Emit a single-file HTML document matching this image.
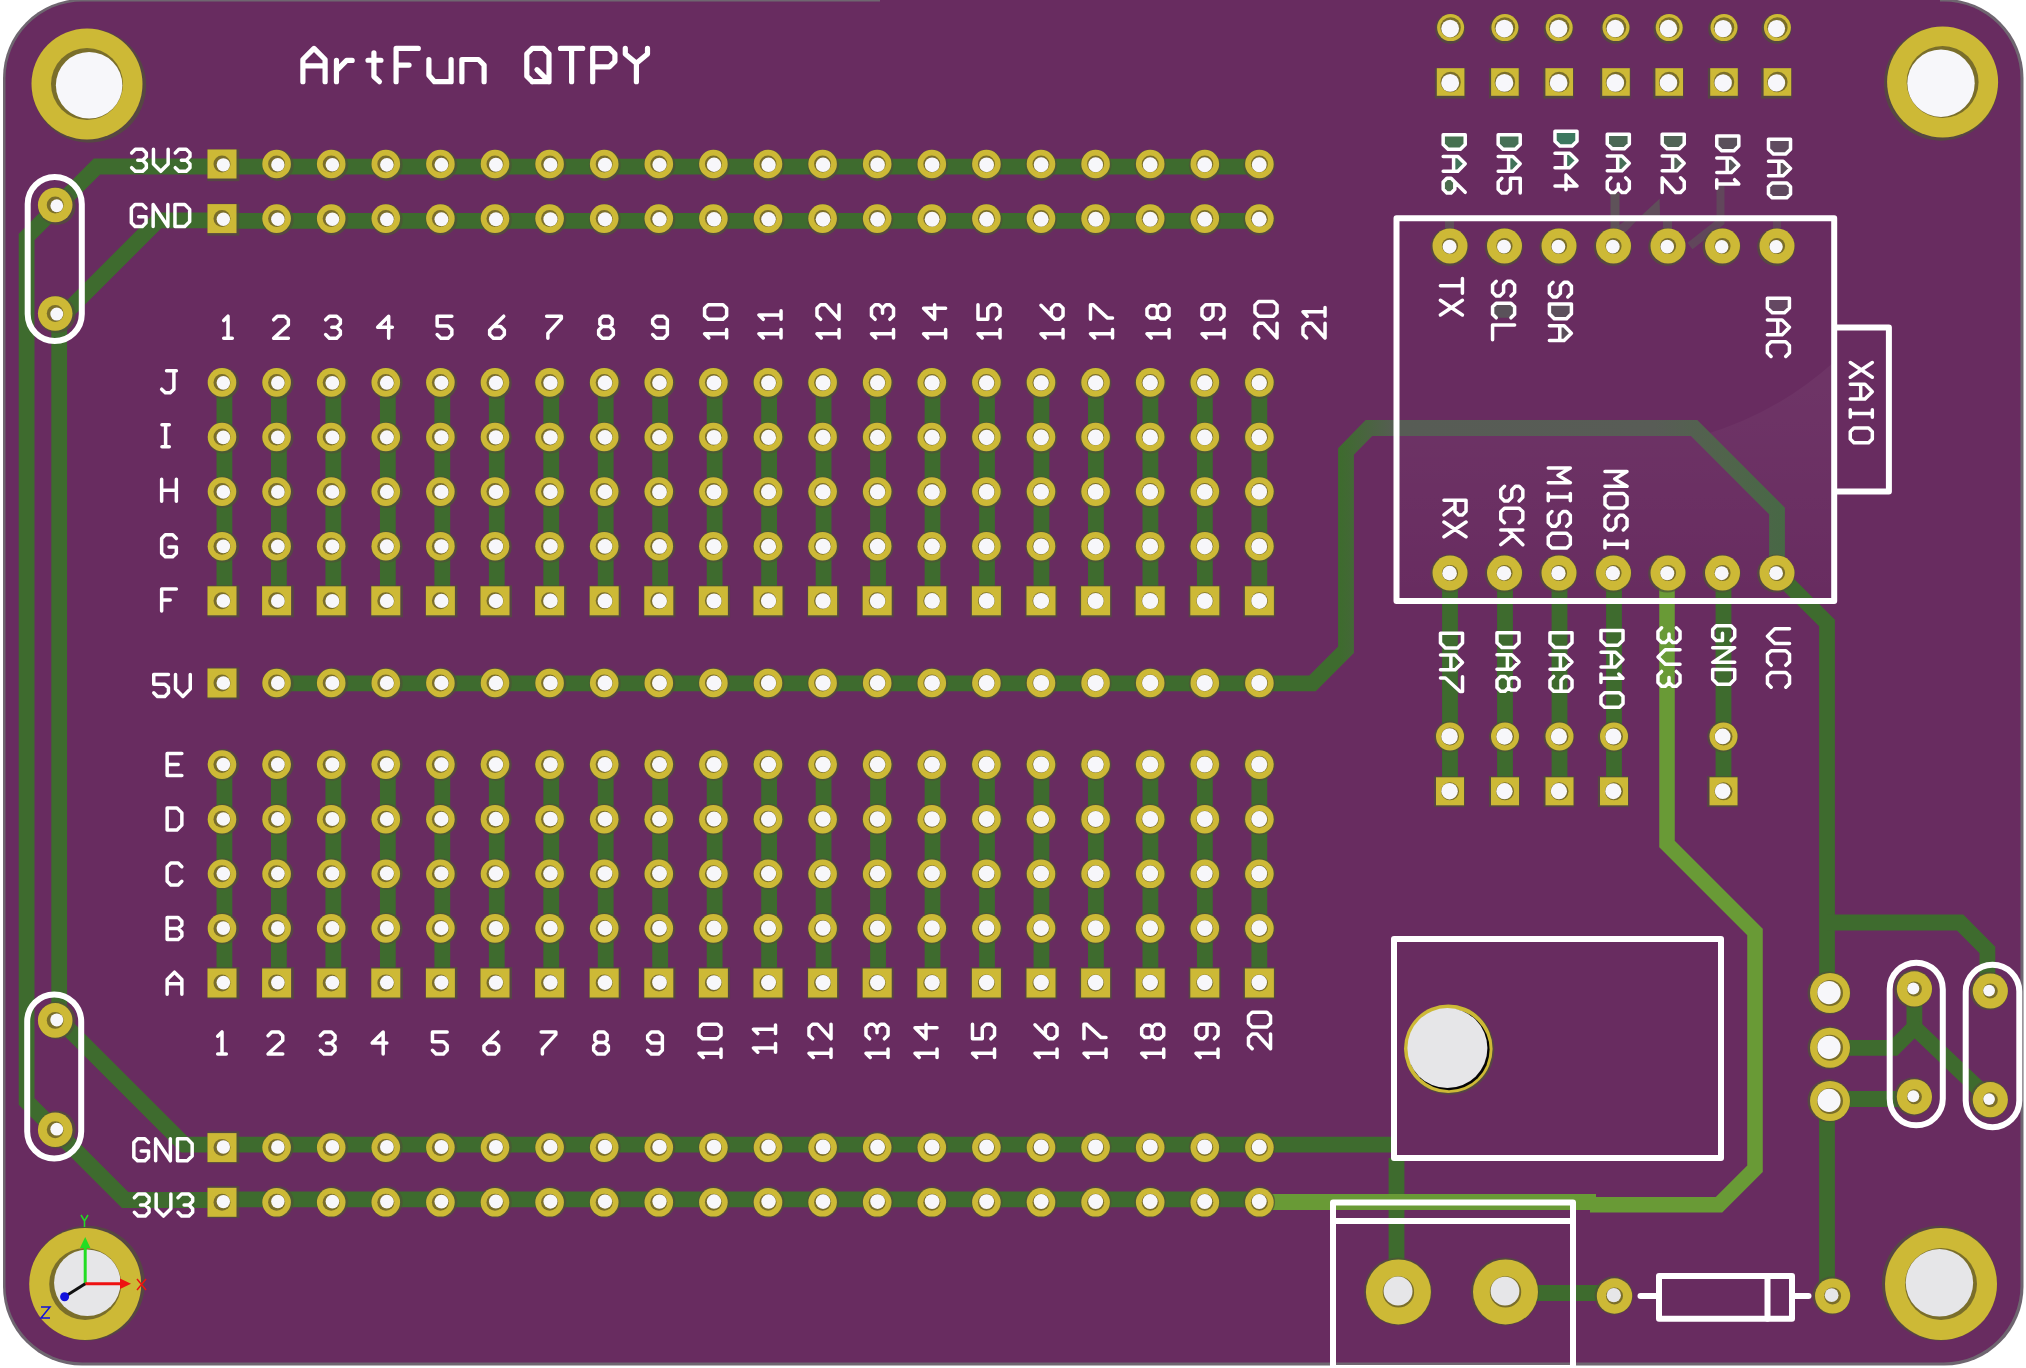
<!DOCTYPE html>
<html><head><meta charset="utf-8"><title>ArtFun QTPY PCB</title>
<style>html,body{margin:0;padding:0;background:#fff;overflow:hidden;font-family:"Liberation Sans",sans-serif}svg{display:block}</style>
</head><body>
<svg width="2026" height="1368" viewBox="0 0 2026 1368"><rect x="0" y="0" width="2026" height="1368" fill="#ffffff"/>
<rect x="3" y="-1" width="2020.5" height="1366.5" rx="79" ry="79" fill="#6f6670"/>
<rect x="5.5" y="1.5" width="2015" height="1361" rx="77" ry="77" fill="#682c60"/>
<rect x="880" y="0" width="1060" height="3" fill="#682c60"/>
<defs><linearGradient id="ghost" gradientUnits="userSpaceOnUse" x1="0" y1="380" x2="0" y2="600"><stop offset="0" stop-color="#ffffff" stop-opacity="0.04"/><stop offset="1" stop-color="#ffffff" stop-opacity="0.0"/></linearGradient></defs>
<path d="M1834 362 Q1775 415 1700 436 L1399 436 L1399 598 L1834 598 Z" fill="url(#ghost)"/>
<path d="M224.42 166.63 L1259.33 166.63" fill="none" stroke="#3e6b2e" stroke-width="15.8" stroke-linejoin="miter" stroke-linecap="butt"/>
<path d="M224.42 220.94 L1259.33 220.94" fill="none" stroke="#3e6b2e" stroke-width="15.8" stroke-linejoin="miter" stroke-linecap="butt"/>
<path d="M224 166.5 L97 166.5 L26.6 237 L26.6 1101.4 L125.2 1200 L224 1200" fill="none" stroke="#3e6b2e" stroke-width="15.8" stroke-linejoin="miter" stroke-linecap="butt"/>
<path d="M224 220.4 L158 220.4 L59.2 319.2 L59.2 1019.5 L184.4 1144.7 L224 1144.7" fill="none" stroke="#3e6b2e" stroke-width="15.8" stroke-linejoin="miter" stroke-linecap="butt"/>
<path d="M224.42 383.87 L224.42 601.11" fill="none" stroke="#3e6b2e" stroke-width="15.8" stroke-linejoin="miter" stroke-linecap="butt"/>
<path d="M224.42 764.05 L224.42 981.29" fill="none" stroke="#3e6b2e" stroke-width="15.8" stroke-linejoin="miter" stroke-linecap="butt"/>
<path d="M278.89 383.87 L278.89 601.11" fill="none" stroke="#3e6b2e" stroke-width="15.8" stroke-linejoin="miter" stroke-linecap="butt"/>
<path d="M278.89 764.05 L278.89 981.29" fill="none" stroke="#3e6b2e" stroke-width="15.8" stroke-linejoin="miter" stroke-linecap="butt"/>
<path d="M333.36 383.87 L333.36 601.11" fill="none" stroke="#3e6b2e" stroke-width="15.8" stroke-linejoin="miter" stroke-linecap="butt"/>
<path d="M333.36 764.05 L333.36 981.29" fill="none" stroke="#3e6b2e" stroke-width="15.8" stroke-linejoin="miter" stroke-linecap="butt"/>
<path d="M387.83 383.87 L387.83 601.11" fill="none" stroke="#3e6b2e" stroke-width="15.8" stroke-linejoin="miter" stroke-linecap="butt"/>
<path d="M387.83 764.05 L387.83 981.29" fill="none" stroke="#3e6b2e" stroke-width="15.8" stroke-linejoin="miter" stroke-linecap="butt"/>
<path d="M442.3 383.87 L442.3 601.11" fill="none" stroke="#3e6b2e" stroke-width="15.8" stroke-linejoin="miter" stroke-linecap="butt"/>
<path d="M442.3 764.05 L442.3 981.29" fill="none" stroke="#3e6b2e" stroke-width="15.8" stroke-linejoin="miter" stroke-linecap="butt"/>
<path d="M496.76 383.87 L496.76 601.11" fill="none" stroke="#3e6b2e" stroke-width="15.8" stroke-linejoin="miter" stroke-linecap="butt"/>
<path d="M496.76 764.05 L496.76 981.29" fill="none" stroke="#3e6b2e" stroke-width="15.8" stroke-linejoin="miter" stroke-linecap="butt"/>
<path d="M551.23 383.87 L551.23 601.11" fill="none" stroke="#3e6b2e" stroke-width="15.8" stroke-linejoin="miter" stroke-linecap="butt"/>
<path d="M551.23 764.05 L551.23 981.29" fill="none" stroke="#3e6b2e" stroke-width="15.8" stroke-linejoin="miter" stroke-linecap="butt"/>
<path d="M605.7 383.87 L605.7 601.11" fill="none" stroke="#3e6b2e" stroke-width="15.8" stroke-linejoin="miter" stroke-linecap="butt"/>
<path d="M605.7 764.05 L605.7 981.29" fill="none" stroke="#3e6b2e" stroke-width="15.8" stroke-linejoin="miter" stroke-linecap="butt"/>
<path d="M660.17 383.87 L660.17 601.11" fill="none" stroke="#3e6b2e" stroke-width="15.8" stroke-linejoin="miter" stroke-linecap="butt"/>
<path d="M660.17 764.05 L660.17 981.29" fill="none" stroke="#3e6b2e" stroke-width="15.8" stroke-linejoin="miter" stroke-linecap="butt"/>
<path d="M714.64 383.87 L714.64 601.11" fill="none" stroke="#3e6b2e" stroke-width="15.8" stroke-linejoin="miter" stroke-linecap="butt"/>
<path d="M714.64 764.05 L714.64 981.29" fill="none" stroke="#3e6b2e" stroke-width="15.8" stroke-linejoin="miter" stroke-linecap="butt"/>
<path d="M769.11 383.87 L769.11 601.11" fill="none" stroke="#3e6b2e" stroke-width="15.8" stroke-linejoin="miter" stroke-linecap="butt"/>
<path d="M769.11 764.05 L769.11 981.29" fill="none" stroke="#3e6b2e" stroke-width="15.8" stroke-linejoin="miter" stroke-linecap="butt"/>
<path d="M823.58 383.87 L823.58 601.11" fill="none" stroke="#3e6b2e" stroke-width="15.8" stroke-linejoin="miter" stroke-linecap="butt"/>
<path d="M823.58 764.05 L823.58 981.29" fill="none" stroke="#3e6b2e" stroke-width="15.8" stroke-linejoin="miter" stroke-linecap="butt"/>
<path d="M878.05 383.87 L878.05 601.11" fill="none" stroke="#3e6b2e" stroke-width="15.8" stroke-linejoin="miter" stroke-linecap="butt"/>
<path d="M878.05 764.05 L878.05 981.29" fill="none" stroke="#3e6b2e" stroke-width="15.8" stroke-linejoin="miter" stroke-linecap="butt"/>
<path d="M932.52 383.87 L932.52 601.11" fill="none" stroke="#3e6b2e" stroke-width="15.8" stroke-linejoin="miter" stroke-linecap="butt"/>
<path d="M932.52 764.05 L932.52 981.29" fill="none" stroke="#3e6b2e" stroke-width="15.8" stroke-linejoin="miter" stroke-linecap="butt"/>
<path d="M986.98 383.87 L986.98 601.11" fill="none" stroke="#3e6b2e" stroke-width="15.8" stroke-linejoin="miter" stroke-linecap="butt"/>
<path d="M986.98 764.05 L986.98 981.29" fill="none" stroke="#3e6b2e" stroke-width="15.8" stroke-linejoin="miter" stroke-linecap="butt"/>
<path d="M1041.45 383.87 L1041.45 601.11" fill="none" stroke="#3e6b2e" stroke-width="15.8" stroke-linejoin="miter" stroke-linecap="butt"/>
<path d="M1041.45 764.05 L1041.45 981.29" fill="none" stroke="#3e6b2e" stroke-width="15.8" stroke-linejoin="miter" stroke-linecap="butt"/>
<path d="M1095.92 383.87 L1095.92 601.11" fill="none" stroke="#3e6b2e" stroke-width="15.8" stroke-linejoin="miter" stroke-linecap="butt"/>
<path d="M1095.92 764.05 L1095.92 981.29" fill="none" stroke="#3e6b2e" stroke-width="15.8" stroke-linejoin="miter" stroke-linecap="butt"/>
<path d="M1150.39 383.87 L1150.39 601.11" fill="none" stroke="#3e6b2e" stroke-width="15.8" stroke-linejoin="miter" stroke-linecap="butt"/>
<path d="M1150.39 764.05 L1150.39 981.29" fill="none" stroke="#3e6b2e" stroke-width="15.8" stroke-linejoin="miter" stroke-linecap="butt"/>
<path d="M1204.86 383.87 L1204.86 601.11" fill="none" stroke="#3e6b2e" stroke-width="15.8" stroke-linejoin="miter" stroke-linecap="butt"/>
<path d="M1204.86 764.05 L1204.86 981.29" fill="none" stroke="#3e6b2e" stroke-width="15.8" stroke-linejoin="miter" stroke-linecap="butt"/>
<path d="M1259.33 383.87 L1259.33 601.11" fill="none" stroke="#3e6b2e" stroke-width="15.8" stroke-linejoin="miter" stroke-linecap="butt"/>
<path d="M1259.33 764.05 L1259.33 981.29" fill="none" stroke="#3e6b2e" stroke-width="15.8" stroke-linejoin="miter" stroke-linecap="butt"/>
<defs><linearGradient id="g5v" gradientUnits="userSpaceOnUse" x1="1340" y1="0" x2="1790" y2="0"><stop offset="0" stop-color="#3e6b2e"/><stop offset="0.13" stop-color="#575c55"/><stop offset="0.7" stop-color="#585c56"/><stop offset="0.86" stop-color="#50644b"/><stop offset="1" stop-color="#476845"/></linearGradient></defs>
<path d="M276.6 683.3 L1312.5 683.3 L1346 649.8 L1346 451.5 L1369 428 L1694 428 L1777 511 L1777 573" fill="none" stroke="url(#g5v)" stroke-width="15.8" stroke-linejoin="miter" stroke-linecap="butt"/>
<path d="M1615 193 L1615 246" fill="none" stroke="#5b5d58" stroke-width="9" stroke-linejoin="miter" stroke-linecap="butt" opacity="0.8"/>
<path d="M1720.5 186 L1720.5 222 L1690 246" fill="none" stroke="#5b5d58" stroke-width="8" stroke-linejoin="miter" stroke-linecap="butt" opacity="0.55"/>
<path d="M1667.5 220 L1667.5 246" fill="none" stroke="#5b5d58" stroke-width="9" stroke-linejoin="miter" stroke-linecap="butt" opacity="0.6"/>
<path d="M1659.6 198.7 L1660 216 L1641 216 Z" fill="#5b5d58" opacity="0.7"/>
<path d="M1615 228 L1632 216 L1641 216 L1622 236 Z" fill="#5b5d58" opacity="0.55"/>
<path d="M1449.5 221 L1449.5 246" fill="none" stroke="#5b5d58" stroke-width="9" stroke-linejoin="miter" stroke-linecap="butt" opacity="0.65"/>
<path d="M1777 221 L1777 246" fill="none" stroke="#5b5d58" stroke-width="8" stroke-linejoin="miter" stroke-linecap="butt" opacity="0.45"/>
<path d="M224 1144.7 L1391 1144.7" fill="none" stroke="#3e6b2e" stroke-width="15.8" stroke-linejoin="miter" stroke-linecap="butt"/>
<path d="M1396.5 1158 L1396.5 1291" fill="none" stroke="#3e6b2e" stroke-width="15.8" stroke-linejoin="miter" stroke-linecap="butt"/>
<path d="M224.42 1199.43 L1259.33 1199.43" fill="none" stroke="#3e6b2e" stroke-width="15.8" stroke-linejoin="miter" stroke-linecap="butt"/>
<path d="M1259.4 1202 L1596 1202" fill="none" stroke="#699a36" stroke-width="15.8" stroke-linejoin="miter" stroke-linecap="butt"/>
<path d="M1590 1204.8 L1719 1204.8 L1755 1168.8 L1755 932 L1667 844 L1667 573" fill="none" stroke="#699a36" stroke-width="15.5" stroke-linejoin="miter" stroke-linecap="butt"/>
<path d="M1450 573 L1450 791" fill="none" stroke="#3e6b2e" stroke-width="15.8" stroke-linejoin="miter" stroke-linecap="butt"/>
<path d="M1505 573 L1505 791" fill="none" stroke="#3e6b2e" stroke-width="15.8" stroke-linejoin="miter" stroke-linecap="butt"/>
<path d="M1559.5 573 L1559.5 791" fill="none" stroke="#3e6b2e" stroke-width="15.8" stroke-linejoin="miter" stroke-linecap="butt"/>
<path d="M1614 573 L1614 791" fill="none" stroke="#3e6b2e" stroke-width="15.8" stroke-linejoin="miter" stroke-linecap="butt"/>
<path d="M1723.5 573 L1723.5 791" fill="none" stroke="#3e6b2e" stroke-width="15.8" stroke-linejoin="miter" stroke-linecap="butt"/>
<path d="M1777 573 L1827 623 L1827 993" fill="none" stroke="#3e6b2e" stroke-width="15.8" stroke-linejoin="miter" stroke-linecap="butt"/>
<path d="M1827 922.5 L1960 922.5 L1987.4 950 L1987.4 992" fill="none" stroke="#3e6b2e" stroke-width="15.8" stroke-linejoin="miter" stroke-linecap="butt"/>
<path d="M1827 1101 L1827 1296" fill="none" stroke="#3e6b2e" stroke-width="15.8" stroke-linejoin="miter" stroke-linecap="butt"/>
<path d="M1829 1047.8 L1894 1047.8 L1914.4 1027.4 L1914.4 989" fill="none" stroke="#3e6b2e" stroke-width="15.8" stroke-linejoin="miter" stroke-linecap="butt"/>
<path d="M1914.4 1027.4 L1990.3 1099.7" fill="none" stroke="#3e6b2e" stroke-width="15.8" stroke-linejoin="miter" stroke-linecap="butt"/>
<path d="M1829 1099 L1914.4 1099" fill="none" stroke="#3e6b2e" stroke-width="15.8" stroke-linejoin="miter" stroke-linecap="butt"/>
<path d="M1506 1293 L1614 1293" fill="none" stroke="#3e6b2e" stroke-width="15.8" stroke-linejoin="miter" stroke-linecap="butt"/>
<rect x="207.35" y="149.18" width="32" height="32" fill="#4f5238" opacity="0.7"/>
<rect x="207.5" y="149.5" width="29" height="29" fill="#cdb936"/>
<circle cx="222" cy="164" r="8.5" fill="#7a6e2a"/>
<circle cx="223.35" cy="164.78" r="6.65" fill="#f7f7fa"/>
<circle cx="277.87" cy="165.18" r="15.8" fill="#4f5238" opacity="0.7"/>
<circle cx="276.6" cy="164" r="14.3" fill="#cdb936"/>
<circle cx="276.6" cy="164" r="8.5" fill="#7a6e2a"/>
<circle cx="277.87" cy="164.78" r="6.71" fill="#f7f7fa"/>
<circle cx="332.39" cy="165.18" r="15.8" fill="#4f5238" opacity="0.7"/>
<circle cx="331.2" cy="164" r="14.3" fill="#cdb936"/>
<circle cx="331.2" cy="164" r="8.5" fill="#7a6e2a"/>
<circle cx="332.39" cy="164.78" r="6.78" fill="#f7f7fa"/>
<circle cx="386.91" cy="165.18" r="15.8" fill="#4f5238" opacity="0.7"/>
<circle cx="385.8" cy="164" r="14.3" fill="#cdb936"/>
<circle cx="385.8" cy="164" r="8.5" fill="#7a6e2a"/>
<circle cx="386.91" cy="164.78" r="6.85" fill="#f7f7fa"/>
<circle cx="441.43" cy="165.18" r="15.8" fill="#4f5238" opacity="0.7"/>
<circle cx="440.4" cy="164" r="14.3" fill="#cdb936"/>
<circle cx="440.4" cy="164" r="8.5" fill="#7a6e2a"/>
<circle cx="441.43" cy="164.78" r="6.91" fill="#f7f7fa"/>
<circle cx="495.95" cy="165.18" r="15.8" fill="#4f5238" opacity="0.7"/>
<circle cx="495" cy="164" r="14.3" fill="#cdb936"/>
<circle cx="495" cy="164" r="8.5" fill="#7a6e2a"/>
<circle cx="495.95" cy="164.78" r="6.97" fill="#f7f7fa"/>
<circle cx="550.47" cy="165.18" r="15.8" fill="#4f5238" opacity="0.7"/>
<circle cx="549.6" cy="164" r="14.3" fill="#cdb936"/>
<circle cx="549.6" cy="164" r="8.5" fill="#7a6e2a"/>
<circle cx="550.47" cy="164.78" r="7.03" fill="#f7f7fa"/>
<circle cx="604.99" cy="165.18" r="15.8" fill="#4f5238" opacity="0.7"/>
<circle cx="604.2" cy="164" r="14.3" fill="#cdb936"/>
<circle cx="604.2" cy="164" r="8.5" fill="#7a6e2a"/>
<circle cx="604.99" cy="164.78" r="7.09" fill="#f7f7fa"/>
<circle cx="659.51" cy="165.18" r="15.8" fill="#4f5238" opacity="0.7"/>
<circle cx="658.8" cy="164" r="14.3" fill="#cdb936"/>
<circle cx="658.8" cy="164" r="8.5" fill="#7a6e2a"/>
<circle cx="659.51" cy="164.78" r="7.15" fill="#f7f7fa"/>
<circle cx="714.03" cy="165.18" r="15.8" fill="#4f5238" opacity="0.7"/>
<circle cx="713.4" cy="164" r="14.3" fill="#cdb936"/>
<circle cx="713.4" cy="164" r="8.5" fill="#7a6e2a"/>
<circle cx="714.03" cy="164.78" r="7.2" fill="#f7f7fa"/>
<circle cx="768.55" cy="165.18" r="15.8" fill="#4f5238" opacity="0.7"/>
<circle cx="768" cy="164" r="14.3" fill="#cdb936"/>
<circle cx="768" cy="164" r="8.5" fill="#7a6e2a"/>
<circle cx="768.55" cy="164.78" r="7.25" fill="#f7f7fa"/>
<circle cx="823.07" cy="165.18" r="15.8" fill="#4f5238" opacity="0.7"/>
<circle cx="822.6" cy="164" r="14.3" fill="#cdb936"/>
<circle cx="822.6" cy="164" r="8.5" fill="#7a6e2a"/>
<circle cx="823.07" cy="164.78" r="7.29" fill="#f7f7fa"/>
<circle cx="877.6" cy="165.18" r="15.8" fill="#4f5238" opacity="0.7"/>
<circle cx="877.2" cy="164" r="14.3" fill="#cdb936"/>
<circle cx="877.2" cy="164" r="8.5" fill="#7a6e2a"/>
<circle cx="877.6" cy="164.78" r="7.33" fill="#f7f7fa"/>
<circle cx="932.12" cy="165.18" r="15.8" fill="#4f5238" opacity="0.7"/>
<circle cx="931.8" cy="164" r="14.3" fill="#cdb936"/>
<circle cx="931.8" cy="164" r="8.5" fill="#7a6e2a"/>
<circle cx="932.12" cy="164.78" r="7.36" fill="#f7f7fa"/>
<circle cx="986.64" cy="165.18" r="15.8" fill="#4f5238" opacity="0.7"/>
<circle cx="986.4" cy="164" r="14.3" fill="#cdb936"/>
<circle cx="986.4" cy="164" r="8.5" fill="#7a6e2a"/>
<circle cx="986.64" cy="164.78" r="7.39" fill="#f7f7fa"/>
<circle cx="1041.16" cy="165.18" r="15.8" fill="#4f5238" opacity="0.7"/>
<circle cx="1041" cy="164" r="14.3" fill="#cdb936"/>
<circle cx="1041" cy="164" r="8.5" fill="#7a6e2a"/>
<circle cx="1041.16" cy="164.78" r="7.41" fill="#f7f7fa"/>
<circle cx="1095.68" cy="165.18" r="15.8" fill="#4f5238" opacity="0.7"/>
<circle cx="1095.6" cy="164" r="14.3" fill="#cdb936"/>
<circle cx="1095.6" cy="164" r="8.5" fill="#7a6e2a"/>
<circle cx="1095.68" cy="164.78" r="7.42" fill="#f7f7fa"/>
<circle cx="1150.2" cy="165.18" r="15.8" fill="#4f5238" opacity="0.7"/>
<circle cx="1150.2" cy="164" r="14.3" fill="#cdb936"/>
<circle cx="1150.2" cy="164" r="8.5" fill="#7a6e2a"/>
<circle cx="1150.2" cy="164.78" r="7.42" fill="#f7f7fa"/>
<circle cx="1204.72" cy="165.18" r="15.8" fill="#4f5238" opacity="0.7"/>
<circle cx="1204.8" cy="164" r="14.3" fill="#cdb936"/>
<circle cx="1204.8" cy="164" r="8.5" fill="#7a6e2a"/>
<circle cx="1204.72" cy="164.78" r="7.42" fill="#f7f7fa"/>
<circle cx="1259.24" cy="165.18" r="15.8" fill="#4f5238" opacity="0.7"/>
<circle cx="1259.4" cy="164" r="14.3" fill="#cdb936"/>
<circle cx="1259.4" cy="164" r="8.5" fill="#7a6e2a"/>
<circle cx="1259.24" cy="164.78" r="7.41" fill="#f7f7fa"/>
<rect x="207.35" y="203.7" width="32" height="32" fill="#4f5238" opacity="0.7"/>
<rect x="207.5" y="204.1" width="29" height="29" fill="#cdb936"/>
<circle cx="222" cy="218.6" r="8.5" fill="#7a6e2a"/>
<circle cx="223.35" cy="219.3" r="6.68" fill="#f7f7fa"/>
<circle cx="277.87" cy="219.7" r="15.8" fill="#4f5238" opacity="0.7"/>
<circle cx="276.6" cy="218.6" r="14.3" fill="#cdb936"/>
<circle cx="276.6" cy="218.6" r="8.5" fill="#7a6e2a"/>
<circle cx="277.87" cy="219.3" r="6.75" fill="#f7f7fa"/>
<circle cx="332.39" cy="219.7" r="15.8" fill="#4f5238" opacity="0.7"/>
<circle cx="331.2" cy="218.6" r="14.3" fill="#cdb936"/>
<circle cx="331.2" cy="218.6" r="8.5" fill="#7a6e2a"/>
<circle cx="332.39" cy="219.3" r="6.82" fill="#f7f7fa"/>
<circle cx="386.91" cy="219.7" r="15.8" fill="#4f5238" opacity="0.7"/>
<circle cx="385.8" cy="218.6" r="14.3" fill="#cdb936"/>
<circle cx="385.8" cy="218.6" r="8.5" fill="#7a6e2a"/>
<circle cx="386.91" cy="219.3" r="6.89" fill="#f7f7fa"/>
<circle cx="441.43" cy="219.7" r="15.8" fill="#4f5238" opacity="0.7"/>
<circle cx="440.4" cy="218.6" r="14.3" fill="#cdb936"/>
<circle cx="440.4" cy="218.6" r="8.5" fill="#7a6e2a"/>
<circle cx="441.43" cy="219.3" r="6.96" fill="#f7f7fa"/>
<circle cx="495.95" cy="219.7" r="15.8" fill="#4f5238" opacity="0.7"/>
<circle cx="495" cy="218.6" r="14.3" fill="#cdb936"/>
<circle cx="495" cy="218.6" r="8.5" fill="#7a6e2a"/>
<circle cx="495.95" cy="219.3" r="7.02" fill="#f7f7fa"/>
<circle cx="550.47" cy="219.7" r="15.8" fill="#4f5238" opacity="0.7"/>
<circle cx="549.6" cy="218.6" r="14.3" fill="#cdb936"/>
<circle cx="549.6" cy="218.6" r="8.5" fill="#7a6e2a"/>
<circle cx="550.47" cy="219.3" r="7.08" fill="#f7f7fa"/>
<circle cx="604.99" cy="219.7" r="15.8" fill="#4f5238" opacity="0.7"/>
<circle cx="604.2" cy="218.6" r="14.3" fill="#cdb936"/>
<circle cx="604.2" cy="218.6" r="8.5" fill="#7a6e2a"/>
<circle cx="604.99" cy="219.3" r="7.14" fill="#f7f7fa"/>
<circle cx="659.51" cy="219.7" r="15.8" fill="#4f5238" opacity="0.7"/>
<circle cx="658.8" cy="218.6" r="14.3" fill="#cdb936"/>
<circle cx="658.8" cy="218.6" r="8.5" fill="#7a6e2a"/>
<circle cx="659.51" cy="219.3" r="7.2" fill="#f7f7fa"/>
<circle cx="714.03" cy="219.7" r="15.8" fill="#4f5238" opacity="0.7"/>
<circle cx="713.4" cy="218.6" r="14.3" fill="#cdb936"/>
<circle cx="713.4" cy="218.6" r="8.5" fill="#7a6e2a"/>
<circle cx="714.03" cy="219.3" r="7.26" fill="#f7f7fa"/>
<circle cx="768.55" cy="219.7" r="15.8" fill="#4f5238" opacity="0.7"/>
<circle cx="768" cy="218.6" r="14.3" fill="#cdb936"/>
<circle cx="768" cy="218.6" r="8.5" fill="#7a6e2a"/>
<circle cx="768.55" cy="219.3" r="7.31" fill="#f7f7fa"/>
<circle cx="823.07" cy="219.7" r="15.8" fill="#4f5238" opacity="0.7"/>
<circle cx="822.6" cy="218.6" r="14.3" fill="#cdb936"/>
<circle cx="822.6" cy="218.6" r="8.5" fill="#7a6e2a"/>
<circle cx="823.07" cy="219.3" r="7.36" fill="#f7f7fa"/>
<circle cx="877.6" cy="219.7" r="15.8" fill="#4f5238" opacity="0.7"/>
<circle cx="877.2" cy="218.6" r="14.3" fill="#cdb936"/>
<circle cx="877.2" cy="218.6" r="8.5" fill="#7a6e2a"/>
<circle cx="877.6" cy="219.3" r="7.4" fill="#f7f7fa"/>
<circle cx="932.12" cy="219.7" r="15.8" fill="#4f5238" opacity="0.7"/>
<circle cx="931.8" cy="218.6" r="14.3" fill="#cdb936"/>
<circle cx="931.8" cy="218.6" r="8.5" fill="#7a6e2a"/>
<circle cx="932.12" cy="219.3" r="7.43" fill="#f7f7fa"/>
<circle cx="986.64" cy="219.7" r="15.8" fill="#4f5238" opacity="0.7"/>
<circle cx="986.4" cy="218.6" r="14.3" fill="#cdb936"/>
<circle cx="986.4" cy="218.6" r="8.5" fill="#7a6e2a"/>
<circle cx="986.64" cy="219.3" r="7.46" fill="#f7f7fa"/>
<circle cx="1041.16" cy="219.7" r="15.8" fill="#4f5238" opacity="0.7"/>
<circle cx="1041" cy="218.6" r="14.3" fill="#cdb936"/>
<circle cx="1041" cy="218.6" r="8.5" fill="#7a6e2a"/>
<circle cx="1041.16" cy="219.3" r="7.48" fill="#f7f7fa"/>
<circle cx="1095.68" cy="219.7" r="15.8" fill="#4f5238" opacity="0.7"/>
<circle cx="1095.6" cy="218.6" r="14.3" fill="#cdb936"/>
<circle cx="1095.6" cy="218.6" r="8.5" fill="#7a6e2a"/>
<circle cx="1095.68" cy="219.3" r="7.5" fill="#f7f7fa"/>
<circle cx="1150.2" cy="219.7" r="15.8" fill="#4f5238" opacity="0.7"/>
<circle cx="1150.2" cy="218.6" r="14.3" fill="#cdb936"/>
<circle cx="1150.2" cy="218.6" r="8.5" fill="#7a6e2a"/>
<circle cx="1150.2" cy="219.3" r="7.5" fill="#f7f7fa"/>
<circle cx="1204.72" cy="219.7" r="15.8" fill="#4f5238" opacity="0.7"/>
<circle cx="1204.8" cy="218.6" r="14.3" fill="#cdb936"/>
<circle cx="1204.8" cy="218.6" r="8.5" fill="#7a6e2a"/>
<circle cx="1204.72" cy="219.3" r="7.5" fill="#f7f7fa"/>
<circle cx="1259.24" cy="219.7" r="15.8" fill="#4f5238" opacity="0.7"/>
<circle cx="1259.4" cy="218.6" r="14.3" fill="#cdb936"/>
<circle cx="1259.4" cy="218.6" r="8.5" fill="#7a6e2a"/>
<circle cx="1259.24" cy="219.3" r="7.48" fill="#f7f7fa"/>
<rect x="207.35" y="667.42" width="32" height="32" fill="#4f5238" opacity="0.7"/>
<rect x="207.5" y="668.5" width="29" height="29" fill="#cdb936"/>
<circle cx="222" cy="683" r="8.5" fill="#7a6e2a"/>
<circle cx="223.35" cy="683.02" r="6.85" fill="#f7f7fa"/>
<circle cx="277.87" cy="683.42" r="15.8" fill="#4f5238" opacity="0.7"/>
<circle cx="276.6" cy="683" r="14.3" fill="#cdb936"/>
<circle cx="276.6" cy="683" r="8.5" fill="#7a6e2a"/>
<circle cx="277.87" cy="683.02" r="6.93" fill="#f7f7fa"/>
<circle cx="332.39" cy="683.42" r="15.8" fill="#4f5238" opacity="0.7"/>
<circle cx="331.2" cy="683" r="14.3" fill="#cdb936"/>
<circle cx="331.2" cy="683" r="8.5" fill="#7a6e2a"/>
<circle cx="332.39" cy="683.02" r="7.01" fill="#f7f7fa"/>
<circle cx="386.91" cy="683.42" r="15.8" fill="#4f5238" opacity="0.7"/>
<circle cx="385.8" cy="683" r="14.3" fill="#cdb936"/>
<circle cx="385.8" cy="683" r="8.5" fill="#7a6e2a"/>
<circle cx="386.91" cy="683.02" r="7.09" fill="#f7f7fa"/>
<circle cx="441.43" cy="683.42" r="15.8" fill="#4f5238" opacity="0.7"/>
<circle cx="440.4" cy="683" r="14.3" fill="#cdb936"/>
<circle cx="440.4" cy="683" r="8.5" fill="#7a6e2a"/>
<circle cx="441.43" cy="683.02" r="7.17" fill="#f7f7fa"/>
<circle cx="495.95" cy="683.42" r="15.8" fill="#4f5238" opacity="0.7"/>
<circle cx="495" cy="683" r="14.3" fill="#cdb936"/>
<circle cx="495" cy="683" r="8.5" fill="#7a6e2a"/>
<circle cx="495.95" cy="683.02" r="7.25" fill="#f7f7fa"/>
<circle cx="550.47" cy="683.42" r="15.8" fill="#4f5238" opacity="0.7"/>
<circle cx="549.6" cy="683" r="14.3" fill="#cdb936"/>
<circle cx="549.6" cy="683" r="8.5" fill="#7a6e2a"/>
<circle cx="550.47" cy="683.02" r="7.33" fill="#f7f7fa"/>
<circle cx="604.99" cy="683.42" r="15.8" fill="#4f5238" opacity="0.7"/>
<circle cx="604.2" cy="683" r="14.3" fill="#cdb936"/>
<circle cx="604.2" cy="683" r="8.5" fill="#7a6e2a"/>
<circle cx="604.99" cy="683.02" r="7.41" fill="#f7f7fa"/>
<circle cx="659.51" cy="683.42" r="15.8" fill="#4f5238" opacity="0.7"/>
<circle cx="658.8" cy="683" r="14.3" fill="#cdb936"/>
<circle cx="658.8" cy="683" r="8.5" fill="#7a6e2a"/>
<circle cx="659.51" cy="683.02" r="7.49" fill="#f7f7fa"/>
<circle cx="714.03" cy="683.42" r="15.8" fill="#4f5238" opacity="0.7"/>
<circle cx="713.4" cy="683" r="14.3" fill="#cdb936"/>
<circle cx="713.4" cy="683" r="8.5" fill="#7a6e2a"/>
<circle cx="714.03" cy="683.02" r="7.57" fill="#f7f7fa"/>
<circle cx="768.55" cy="683.42" r="15.8" fill="#4f5238" opacity="0.7"/>
<circle cx="768" cy="683" r="14.3" fill="#cdb936"/>
<circle cx="768" cy="683" r="8.5" fill="#7a6e2a"/>
<circle cx="768.55" cy="683.02" r="7.65" fill="#f7f7fa"/>
<circle cx="823.07" cy="683.42" r="15.8" fill="#4f5238" opacity="0.7"/>
<circle cx="822.6" cy="683" r="14.3" fill="#cdb936"/>
<circle cx="822.6" cy="683" r="8.5" fill="#7a6e2a"/>
<circle cx="823.07" cy="683.02" r="7.72" fill="#f7f7fa"/>
<circle cx="877.6" cy="683.42" r="15.8" fill="#4f5238" opacity="0.7"/>
<circle cx="877.2" cy="683" r="14.3" fill="#cdb936"/>
<circle cx="877.2" cy="683" r="8.5" fill="#7a6e2a"/>
<circle cx="877.6" cy="683.02" r="7.8" fill="#f7f7fa"/>
<circle cx="932.12" cy="683.42" r="15.8" fill="#4f5238" opacity="0.7"/>
<circle cx="931.8" cy="683" r="14.3" fill="#cdb936"/>
<circle cx="931.8" cy="683" r="8.5" fill="#7a6e2a"/>
<circle cx="932.12" cy="683.02" r="7.88" fill="#f7f7fa"/>
<circle cx="986.64" cy="683.42" r="15.8" fill="#4f5238" opacity="0.7"/>
<circle cx="986.4" cy="683" r="14.3" fill="#cdb936"/>
<circle cx="986.4" cy="683" r="8.5" fill="#7a6e2a"/>
<circle cx="986.64" cy="683.02" r="7.96" fill="#f7f7fa"/>
<circle cx="1041.16" cy="683.42" r="15.8" fill="#4f5238" opacity="0.7"/>
<circle cx="1041" cy="683" r="14.3" fill="#cdb936"/>
<circle cx="1041" cy="683" r="8.5" fill="#7a6e2a"/>
<circle cx="1041.16" cy="683.02" r="8.04" fill="#f7f7fa"/>
<circle cx="1095.68" cy="683.42" r="15.8" fill="#4f5238" opacity="0.7"/>
<circle cx="1095.6" cy="683" r="14.3" fill="#cdb936"/>
<circle cx="1095.6" cy="683" r="8.5" fill="#7a6e2a"/>
<circle cx="1095.68" cy="683.02" r="8.12" fill="#f7f7fa"/>
<circle cx="1150.2" cy="683.42" r="15.8" fill="#4f5238" opacity="0.7"/>
<circle cx="1150.2" cy="683" r="14.3" fill="#cdb936"/>
<circle cx="1150.2" cy="683" r="8.5" fill="#7a6e2a"/>
<circle cx="1150.2" cy="683.02" r="8.18" fill="#f7f7fa"/>
<circle cx="1204.72" cy="683.42" r="15.8" fill="#4f5238" opacity="0.7"/>
<circle cx="1204.8" cy="683" r="14.3" fill="#cdb936"/>
<circle cx="1204.8" cy="683" r="8.5" fill="#7a6e2a"/>
<circle cx="1204.72" cy="683.02" r="8.12" fill="#f7f7fa"/>
<circle cx="1259.24" cy="683.42" r="15.8" fill="#4f5238" opacity="0.7"/>
<circle cx="1259.4" cy="683" r="14.3" fill="#cdb936"/>
<circle cx="1259.4" cy="683" r="8.5" fill="#7a6e2a"/>
<circle cx="1259.24" cy="683.02" r="8.04" fill="#f7f7fa"/>
<rect x="207.35" y="1131.35" width="32" height="32" fill="#4f5238" opacity="0.7"/>
<rect x="207.5" y="1133.1" width="29" height="29" fill="#cdb936"/>
<circle cx="222" cy="1147.6" r="8.5" fill="#7a6e2a"/>
<circle cx="223.35" cy="1146.95" r="6.71" fill="#f7f7fa"/>
<circle cx="277.87" cy="1147.35" r="15.8" fill="#4f5238" opacity="0.7"/>
<circle cx="276.6" cy="1147.6" r="14.3" fill="#cdb936"/>
<circle cx="276.6" cy="1147.6" r="8.5" fill="#7a6e2a"/>
<circle cx="277.87" cy="1146.95" r="6.78" fill="#f7f7fa"/>
<circle cx="332.39" cy="1147.35" r="15.8" fill="#4f5238" opacity="0.7"/>
<circle cx="331.2" cy="1147.6" r="14.3" fill="#cdb936"/>
<circle cx="331.2" cy="1147.6" r="8.5" fill="#7a6e2a"/>
<circle cx="332.39" cy="1146.95" r="6.85" fill="#f7f7fa"/>
<circle cx="386.91" cy="1147.35" r="15.8" fill="#4f5238" opacity="0.7"/>
<circle cx="385.8" cy="1147.6" r="14.3" fill="#cdb936"/>
<circle cx="385.8" cy="1147.6" r="8.5" fill="#7a6e2a"/>
<circle cx="386.91" cy="1146.95" r="6.92" fill="#f7f7fa"/>
<circle cx="441.43" cy="1147.35" r="15.8" fill="#4f5238" opacity="0.7"/>
<circle cx="440.4" cy="1147.6" r="14.3" fill="#cdb936"/>
<circle cx="440.4" cy="1147.6" r="8.5" fill="#7a6e2a"/>
<circle cx="441.43" cy="1146.95" r="6.98" fill="#f7f7fa"/>
<circle cx="495.95" cy="1147.35" r="15.8" fill="#4f5238" opacity="0.7"/>
<circle cx="495" cy="1147.6" r="14.3" fill="#cdb936"/>
<circle cx="495" cy="1147.6" r="8.5" fill="#7a6e2a"/>
<circle cx="495.95" cy="1146.95" r="7.05" fill="#f7f7fa"/>
<circle cx="550.47" cy="1147.35" r="15.8" fill="#4f5238" opacity="0.7"/>
<circle cx="549.6" cy="1147.6" r="14.3" fill="#cdb936"/>
<circle cx="549.6" cy="1147.6" r="8.5" fill="#7a6e2a"/>
<circle cx="550.47" cy="1146.95" r="7.11" fill="#f7f7fa"/>
<circle cx="604.99" cy="1147.35" r="15.8" fill="#4f5238" opacity="0.7"/>
<circle cx="604.2" cy="1147.6" r="14.3" fill="#cdb936"/>
<circle cx="604.2" cy="1147.6" r="8.5" fill="#7a6e2a"/>
<circle cx="604.99" cy="1146.95" r="7.18" fill="#f7f7fa"/>
<circle cx="659.51" cy="1147.35" r="15.8" fill="#4f5238" opacity="0.7"/>
<circle cx="658.8" cy="1147.6" r="14.3" fill="#cdb936"/>
<circle cx="658.8" cy="1147.6" r="8.5" fill="#7a6e2a"/>
<circle cx="659.51" cy="1146.95" r="7.24" fill="#f7f7fa"/>
<circle cx="714.03" cy="1147.35" r="15.8" fill="#4f5238" opacity="0.7"/>
<circle cx="713.4" cy="1147.6" r="14.3" fill="#cdb936"/>
<circle cx="713.4" cy="1147.6" r="8.5" fill="#7a6e2a"/>
<circle cx="714.03" cy="1146.95" r="7.29" fill="#f7f7fa"/>
<circle cx="768.55" cy="1147.35" r="15.8" fill="#4f5238" opacity="0.7"/>
<circle cx="768" cy="1147.6" r="14.3" fill="#cdb936"/>
<circle cx="768" cy="1147.6" r="8.5" fill="#7a6e2a"/>
<circle cx="768.55" cy="1146.95" r="7.35" fill="#f7f7fa"/>
<circle cx="823.07" cy="1147.35" r="15.8" fill="#4f5238" opacity="0.7"/>
<circle cx="822.6" cy="1147.6" r="14.3" fill="#cdb936"/>
<circle cx="822.6" cy="1147.6" r="8.5" fill="#7a6e2a"/>
<circle cx="823.07" cy="1146.95" r="7.4" fill="#f7f7fa"/>
<circle cx="877.6" cy="1147.35" r="15.8" fill="#4f5238" opacity="0.7"/>
<circle cx="877.2" cy="1147.6" r="14.3" fill="#cdb936"/>
<circle cx="877.2" cy="1147.6" r="8.5" fill="#7a6e2a"/>
<circle cx="877.6" cy="1146.95" r="7.44" fill="#f7f7fa"/>
<circle cx="932.12" cy="1147.35" r="15.8" fill="#4f5238" opacity="0.7"/>
<circle cx="931.8" cy="1147.6" r="14.3" fill="#cdb936"/>
<circle cx="931.8" cy="1147.6" r="8.5" fill="#7a6e2a"/>
<circle cx="932.12" cy="1146.95" r="7.48" fill="#f7f7fa"/>
<circle cx="986.64" cy="1147.35" r="15.8" fill="#4f5238" opacity="0.7"/>
<circle cx="986.4" cy="1147.6" r="14.3" fill="#cdb936"/>
<circle cx="986.4" cy="1147.6" r="8.5" fill="#7a6e2a"/>
<circle cx="986.64" cy="1146.95" r="7.51" fill="#f7f7fa"/>
<circle cx="1041.16" cy="1147.35" r="15.8" fill="#4f5238" opacity="0.7"/>
<circle cx="1041" cy="1147.6" r="14.3" fill="#cdb936"/>
<circle cx="1041" cy="1147.6" r="8.5" fill="#7a6e2a"/>
<circle cx="1041.16" cy="1146.95" r="7.53" fill="#f7f7fa"/>
<circle cx="1095.68" cy="1147.35" r="15.8" fill="#4f5238" opacity="0.7"/>
<circle cx="1095.6" cy="1147.6" r="14.3" fill="#cdb936"/>
<circle cx="1095.6" cy="1147.6" r="8.5" fill="#7a6e2a"/>
<circle cx="1095.68" cy="1146.95" r="7.55" fill="#f7f7fa"/>
<circle cx="1150.2" cy="1147.35" r="15.8" fill="#4f5238" opacity="0.7"/>
<circle cx="1150.2" cy="1147.6" r="14.3" fill="#cdb936"/>
<circle cx="1150.2" cy="1147.6" r="8.5" fill="#7a6e2a"/>
<circle cx="1150.2" cy="1146.95" r="7.55" fill="#f7f7fa"/>
<circle cx="1204.72" cy="1147.35" r="15.8" fill="#4f5238" opacity="0.7"/>
<circle cx="1204.8" cy="1147.6" r="14.3" fill="#cdb936"/>
<circle cx="1204.8" cy="1147.6" r="8.5" fill="#7a6e2a"/>
<circle cx="1204.72" cy="1146.95" r="7.55" fill="#f7f7fa"/>
<circle cx="1259.24" cy="1147.35" r="15.8" fill="#4f5238" opacity="0.7"/>
<circle cx="1259.4" cy="1147.6" r="14.3" fill="#cdb936"/>
<circle cx="1259.4" cy="1147.6" r="8.5" fill="#7a6e2a"/>
<circle cx="1259.24" cy="1146.95" r="7.53" fill="#f7f7fa"/>
<rect x="207.35" y="1185.97" width="32" height="32" fill="#4f5238" opacity="0.7"/>
<rect x="207.5" y="1187.8" width="29" height="29" fill="#cdb936"/>
<circle cx="222" cy="1202.3" r="8.5" fill="#7a6e2a"/>
<circle cx="223.35" cy="1201.57" r="6.67" fill="#f7f7fa"/>
<circle cx="277.87" cy="1201.97" r="15.8" fill="#4f5238" opacity="0.7"/>
<circle cx="276.6" cy="1202.3" r="14.3" fill="#cdb936"/>
<circle cx="276.6" cy="1202.3" r="8.5" fill="#7a6e2a"/>
<circle cx="277.87" cy="1201.57" r="6.74" fill="#f7f7fa"/>
<circle cx="332.39" cy="1201.97" r="15.8" fill="#4f5238" opacity="0.7"/>
<circle cx="331.2" cy="1202.3" r="14.3" fill="#cdb936"/>
<circle cx="331.2" cy="1202.3" r="8.5" fill="#7a6e2a"/>
<circle cx="332.39" cy="1201.57" r="6.81" fill="#f7f7fa"/>
<circle cx="386.91" cy="1201.97" r="15.8" fill="#4f5238" opacity="0.7"/>
<circle cx="385.8" cy="1202.3" r="14.3" fill="#cdb936"/>
<circle cx="385.8" cy="1202.3" r="8.5" fill="#7a6e2a"/>
<circle cx="386.91" cy="1201.57" r="6.87" fill="#f7f7fa"/>
<circle cx="441.43" cy="1201.97" r="15.8" fill="#4f5238" opacity="0.7"/>
<circle cx="440.4" cy="1202.3" r="14.3" fill="#cdb936"/>
<circle cx="440.4" cy="1202.3" r="8.5" fill="#7a6e2a"/>
<circle cx="441.43" cy="1201.57" r="6.94" fill="#f7f7fa"/>
<circle cx="495.95" cy="1201.97" r="15.8" fill="#4f5238" opacity="0.7"/>
<circle cx="495" cy="1202.3" r="14.3" fill="#cdb936"/>
<circle cx="495" cy="1202.3" r="8.5" fill="#7a6e2a"/>
<circle cx="495.95" cy="1201.57" r="7" fill="#f7f7fa"/>
<circle cx="550.47" cy="1201.97" r="15.8" fill="#4f5238" opacity="0.7"/>
<circle cx="549.6" cy="1202.3" r="14.3" fill="#cdb936"/>
<circle cx="549.6" cy="1202.3" r="8.5" fill="#7a6e2a"/>
<circle cx="550.47" cy="1201.57" r="7.06" fill="#f7f7fa"/>
<circle cx="604.99" cy="1201.97" r="15.8" fill="#4f5238" opacity="0.7"/>
<circle cx="604.2" cy="1202.3" r="14.3" fill="#cdb936"/>
<circle cx="604.2" cy="1202.3" r="8.5" fill="#7a6e2a"/>
<circle cx="604.99" cy="1201.57" r="7.12" fill="#f7f7fa"/>
<circle cx="659.51" cy="1201.97" r="15.8" fill="#4f5238" opacity="0.7"/>
<circle cx="658.8" cy="1202.3" r="14.3" fill="#cdb936"/>
<circle cx="658.8" cy="1202.3" r="8.5" fill="#7a6e2a"/>
<circle cx="659.51" cy="1201.57" r="7.18" fill="#f7f7fa"/>
<circle cx="714.03" cy="1201.97" r="15.8" fill="#4f5238" opacity="0.7"/>
<circle cx="713.4" cy="1202.3" r="14.3" fill="#cdb936"/>
<circle cx="713.4" cy="1202.3" r="8.5" fill="#7a6e2a"/>
<circle cx="714.03" cy="1201.57" r="7.23" fill="#f7f7fa"/>
<circle cx="768.55" cy="1201.97" r="15.8" fill="#4f5238" opacity="0.7"/>
<circle cx="768" cy="1202.3" r="14.3" fill="#cdb936"/>
<circle cx="768" cy="1202.3" r="8.5" fill="#7a6e2a"/>
<circle cx="768.55" cy="1201.57" r="7.28" fill="#f7f7fa"/>
<circle cx="823.07" cy="1201.97" r="15.8" fill="#4f5238" opacity="0.7"/>
<circle cx="822.6" cy="1202.3" r="14.3" fill="#cdb936"/>
<circle cx="822.6" cy="1202.3" r="8.5" fill="#7a6e2a"/>
<circle cx="823.07" cy="1201.57" r="7.33" fill="#f7f7fa"/>
<circle cx="877.6" cy="1201.97" r="15.8" fill="#4f5238" opacity="0.7"/>
<circle cx="877.2" cy="1202.3" r="14.3" fill="#cdb936"/>
<circle cx="877.2" cy="1202.3" r="8.5" fill="#7a6e2a"/>
<circle cx="877.6" cy="1201.57" r="7.37" fill="#f7f7fa"/>
<circle cx="932.12" cy="1201.97" r="15.8" fill="#4f5238" opacity="0.7"/>
<circle cx="931.8" cy="1202.3" r="14.3" fill="#cdb936"/>
<circle cx="931.8" cy="1202.3" r="8.5" fill="#7a6e2a"/>
<circle cx="932.12" cy="1201.57" r="7.41" fill="#f7f7fa"/>
<circle cx="986.64" cy="1201.97" r="15.8" fill="#4f5238" opacity="0.7"/>
<circle cx="986.4" cy="1202.3" r="14.3" fill="#cdb936"/>
<circle cx="986.4" cy="1202.3" r="8.5" fill="#7a6e2a"/>
<circle cx="986.64" cy="1201.57" r="7.43" fill="#f7f7fa"/>
<circle cx="1041.16" cy="1201.97" r="15.8" fill="#4f5238" opacity="0.7"/>
<circle cx="1041" cy="1202.3" r="14.3" fill="#cdb936"/>
<circle cx="1041" cy="1202.3" r="8.5" fill="#7a6e2a"/>
<circle cx="1041.16" cy="1201.57" r="7.45" fill="#f7f7fa"/>
<circle cx="1095.68" cy="1201.97" r="15.8" fill="#4f5238" opacity="0.7"/>
<circle cx="1095.6" cy="1202.3" r="14.3" fill="#cdb936"/>
<circle cx="1095.6" cy="1202.3" r="8.5" fill="#7a6e2a"/>
<circle cx="1095.68" cy="1201.57" r="7.47" fill="#f7f7fa"/>
<circle cx="1150.2" cy="1201.97" r="15.8" fill="#4f5238" opacity="0.7"/>
<circle cx="1150.2" cy="1202.3" r="14.3" fill="#cdb936"/>
<circle cx="1150.2" cy="1202.3" r="8.5" fill="#7a6e2a"/>
<circle cx="1150.2" cy="1201.57" r="7.47" fill="#f7f7fa"/>
<circle cx="1204.72" cy="1201.97" r="15.8" fill="#4f5238" opacity="0.7"/>
<circle cx="1204.8" cy="1202.3" r="14.3" fill="#cdb936"/>
<circle cx="1204.8" cy="1202.3" r="8.5" fill="#7a6e2a"/>
<circle cx="1204.72" cy="1201.57" r="7.47" fill="#f7f7fa"/>
<circle cx="1259.24" cy="1201.97" r="15.8" fill="#4f5238" opacity="0.7"/>
<circle cx="1259.4" cy="1202.3" r="14.3" fill="#cdb936"/>
<circle cx="1259.4" cy="1202.3" r="8.5" fill="#7a6e2a"/>
<circle cx="1259.24" cy="1201.57" r="7.45" fill="#f7f7fa"/>
<circle cx="223.35" cy="383.26" r="15.8" fill="#4f5238" opacity="0.7"/>
<circle cx="222" cy="382.4" r="14.3" fill="#cdb936"/>
<circle cx="222" cy="382.4" r="8.5" fill="#7a6e2a"/>
<circle cx="223.35" cy="382.86" r="6.78" fill="#f7f7fa"/>
<circle cx="277.87" cy="383.26" r="15.8" fill="#4f5238" opacity="0.7"/>
<circle cx="276.6" cy="382.4" r="14.3" fill="#cdb936"/>
<circle cx="276.6" cy="382.4" r="8.5" fill="#7a6e2a"/>
<circle cx="277.87" cy="382.86" r="6.85" fill="#f7f7fa"/>
<circle cx="332.39" cy="383.26" r="15.8" fill="#4f5238" opacity="0.7"/>
<circle cx="331.2" cy="382.4" r="14.3" fill="#cdb936"/>
<circle cx="331.2" cy="382.4" r="8.5" fill="#7a6e2a"/>
<circle cx="332.39" cy="382.86" r="6.93" fill="#f7f7fa"/>
<circle cx="386.91" cy="383.26" r="15.8" fill="#4f5238" opacity="0.7"/>
<circle cx="385.8" cy="382.4" r="14.3" fill="#cdb936"/>
<circle cx="385.8" cy="382.4" r="8.5" fill="#7a6e2a"/>
<circle cx="386.91" cy="382.86" r="7" fill="#f7f7fa"/>
<circle cx="441.43" cy="383.26" r="15.8" fill="#4f5238" opacity="0.7"/>
<circle cx="440.4" cy="382.4" r="14.3" fill="#cdb936"/>
<circle cx="440.4" cy="382.4" r="8.5" fill="#7a6e2a"/>
<circle cx="441.43" cy="382.86" r="7.07" fill="#f7f7fa"/>
<circle cx="495.95" cy="383.26" r="15.8" fill="#4f5238" opacity="0.7"/>
<circle cx="495" cy="382.4" r="14.3" fill="#cdb936"/>
<circle cx="495" cy="382.4" r="8.5" fill="#7a6e2a"/>
<circle cx="495.95" cy="382.86" r="7.14" fill="#f7f7fa"/>
<circle cx="550.47" cy="383.26" r="15.8" fill="#4f5238" opacity="0.7"/>
<circle cx="549.6" cy="382.4" r="14.3" fill="#cdb936"/>
<circle cx="549.6" cy="382.4" r="8.5" fill="#7a6e2a"/>
<circle cx="550.47" cy="382.86" r="7.22" fill="#f7f7fa"/>
<circle cx="604.99" cy="383.26" r="15.8" fill="#4f5238" opacity="0.7"/>
<circle cx="604.2" cy="382.4" r="14.3" fill="#cdb936"/>
<circle cx="604.2" cy="382.4" r="8.5" fill="#7a6e2a"/>
<circle cx="604.99" cy="382.86" r="7.28" fill="#f7f7fa"/>
<circle cx="659.51" cy="383.26" r="15.8" fill="#4f5238" opacity="0.7"/>
<circle cx="658.8" cy="382.4" r="14.3" fill="#cdb936"/>
<circle cx="658.8" cy="382.4" r="8.5" fill="#7a6e2a"/>
<circle cx="659.51" cy="382.86" r="7.35" fill="#f7f7fa"/>
<circle cx="714.03" cy="383.26" r="15.8" fill="#4f5238" opacity="0.7"/>
<circle cx="713.4" cy="382.4" r="14.3" fill="#cdb936"/>
<circle cx="713.4" cy="382.4" r="8.5" fill="#7a6e2a"/>
<circle cx="714.03" cy="382.86" r="7.42" fill="#f7f7fa"/>
<circle cx="768.55" cy="383.26" r="15.8" fill="#4f5238" opacity="0.7"/>
<circle cx="768" cy="382.4" r="14.3" fill="#cdb936"/>
<circle cx="768" cy="382.4" r="8.5" fill="#7a6e2a"/>
<circle cx="768.55" cy="382.86" r="7.48" fill="#f7f7fa"/>
<circle cx="823.07" cy="383.26" r="15.8" fill="#4f5238" opacity="0.7"/>
<circle cx="822.6" cy="382.4" r="14.3" fill="#cdb936"/>
<circle cx="822.6" cy="382.4" r="8.5" fill="#7a6e2a"/>
<circle cx="823.07" cy="382.86" r="7.54" fill="#f7f7fa"/>
<circle cx="877.6" cy="383.26" r="15.8" fill="#4f5238" opacity="0.7"/>
<circle cx="877.2" cy="382.4" r="14.3" fill="#cdb936"/>
<circle cx="877.2" cy="382.4" r="8.5" fill="#7a6e2a"/>
<circle cx="877.6" cy="382.86" r="7.59" fill="#f7f7fa"/>
<circle cx="932.12" cy="383.26" r="15.8" fill="#4f5238" opacity="0.7"/>
<circle cx="931.8" cy="382.4" r="14.3" fill="#cdb936"/>
<circle cx="931.8" cy="382.4" r="8.5" fill="#7a6e2a"/>
<circle cx="932.12" cy="382.86" r="7.64" fill="#f7f7fa"/>
<circle cx="986.64" cy="383.26" r="15.8" fill="#4f5238" opacity="0.7"/>
<circle cx="986.4" cy="382.4" r="14.3" fill="#cdb936"/>
<circle cx="986.4" cy="382.4" r="8.5" fill="#7a6e2a"/>
<circle cx="986.64" cy="382.86" r="7.68" fill="#f7f7fa"/>
<circle cx="1041.16" cy="383.26" r="15.8" fill="#4f5238" opacity="0.7"/>
<circle cx="1041" cy="382.4" r="14.3" fill="#cdb936"/>
<circle cx="1041" cy="382.4" r="8.5" fill="#7a6e2a"/>
<circle cx="1041.16" cy="382.86" r="7.71" fill="#f7f7fa"/>
<circle cx="1095.68" cy="383.26" r="15.8" fill="#4f5238" opacity="0.7"/>
<circle cx="1095.6" cy="382.4" r="14.3" fill="#cdb936"/>
<circle cx="1095.6" cy="382.4" r="8.5" fill="#7a6e2a"/>
<circle cx="1095.68" cy="382.86" r="7.73" fill="#f7f7fa"/>
<circle cx="1150.2" cy="383.26" r="15.8" fill="#4f5238" opacity="0.7"/>
<circle cx="1150.2" cy="382.4" r="14.3" fill="#cdb936"/>
<circle cx="1150.2" cy="382.4" r="8.5" fill="#7a6e2a"/>
<circle cx="1150.2" cy="382.86" r="7.74" fill="#f7f7fa"/>
<circle cx="1204.72" cy="383.26" r="15.8" fill="#4f5238" opacity="0.7"/>
<circle cx="1204.8" cy="382.4" r="14.3" fill="#cdb936"/>
<circle cx="1204.8" cy="382.4" r="8.5" fill="#7a6e2a"/>
<circle cx="1204.72" cy="382.86" r="7.73" fill="#f7f7fa"/>
<circle cx="1259.24" cy="383.26" r="15.8" fill="#4f5238" opacity="0.7"/>
<circle cx="1259.4" cy="382.4" r="14.3" fill="#cdb936"/>
<circle cx="1259.4" cy="382.4" r="8.5" fill="#7a6e2a"/>
<circle cx="1259.24" cy="382.86" r="7.71" fill="#f7f7fa"/>
<circle cx="223.35" cy="437.78" r="15.8" fill="#4f5238" opacity="0.7"/>
<circle cx="222" cy="437" r="14.3" fill="#cdb936"/>
<circle cx="222" cy="437" r="8.5" fill="#7a6e2a"/>
<circle cx="223.35" cy="437.38" r="6.8" fill="#f7f7fa"/>
<circle cx="277.87" cy="437.78" r="15.8" fill="#4f5238" opacity="0.7"/>
<circle cx="276.6" cy="437" r="14.3" fill="#cdb936"/>
<circle cx="276.6" cy="437" r="8.5" fill="#7a6e2a"/>
<circle cx="277.87" cy="437.38" r="6.88" fill="#f7f7fa"/>
<circle cx="332.39" cy="437.78" r="15.8" fill="#4f5238" opacity="0.7"/>
<circle cx="331.2" cy="437" r="14.3" fill="#cdb936"/>
<circle cx="331.2" cy="437" r="8.5" fill="#7a6e2a"/>
<circle cx="332.39" cy="437.38" r="6.95" fill="#f7f7fa"/>
<circle cx="386.91" cy="437.78" r="15.8" fill="#4f5238" opacity="0.7"/>
<circle cx="385.8" cy="437" r="14.3" fill="#cdb936"/>
<circle cx="385.8" cy="437" r="8.5" fill="#7a6e2a"/>
<circle cx="386.91" cy="437.38" r="7.03" fill="#f7f7fa"/>
<circle cx="441.43" cy="437.78" r="15.8" fill="#4f5238" opacity="0.7"/>
<circle cx="440.4" cy="437" r="14.3" fill="#cdb936"/>
<circle cx="440.4" cy="437" r="8.5" fill="#7a6e2a"/>
<circle cx="441.43" cy="437.38" r="7.1" fill="#f7f7fa"/>
<circle cx="495.95" cy="437.78" r="15.8" fill="#4f5238" opacity="0.7"/>
<circle cx="495" cy="437" r="14.3" fill="#cdb936"/>
<circle cx="495" cy="437" r="8.5" fill="#7a6e2a"/>
<circle cx="495.95" cy="437.38" r="7.18" fill="#f7f7fa"/>
<circle cx="550.47" cy="437.78" r="15.8" fill="#4f5238" opacity="0.7"/>
<circle cx="549.6" cy="437" r="14.3" fill="#cdb936"/>
<circle cx="549.6" cy="437" r="8.5" fill="#7a6e2a"/>
<circle cx="550.47" cy="437.38" r="7.25" fill="#f7f7fa"/>
<circle cx="604.99" cy="437.78" r="15.8" fill="#4f5238" opacity="0.7"/>
<circle cx="604.2" cy="437" r="14.3" fill="#cdb936"/>
<circle cx="604.2" cy="437" r="8.5" fill="#7a6e2a"/>
<circle cx="604.99" cy="437.38" r="7.32" fill="#f7f7fa"/>
<circle cx="659.51" cy="437.78" r="15.8" fill="#4f5238" opacity="0.7"/>
<circle cx="658.8" cy="437" r="14.3" fill="#cdb936"/>
<circle cx="658.8" cy="437" r="8.5" fill="#7a6e2a"/>
<circle cx="659.51" cy="437.38" r="7.39" fill="#f7f7fa"/>
<circle cx="714.03" cy="437.78" r="15.8" fill="#4f5238" opacity="0.7"/>
<circle cx="713.4" cy="437" r="14.3" fill="#cdb936"/>
<circle cx="713.4" cy="437" r="8.5" fill="#7a6e2a"/>
<circle cx="714.03" cy="437.38" r="7.46" fill="#f7f7fa"/>
<circle cx="768.55" cy="437.78" r="15.8" fill="#4f5238" opacity="0.7"/>
<circle cx="768" cy="437" r="14.3" fill="#cdb936"/>
<circle cx="768" cy="437" r="8.5" fill="#7a6e2a"/>
<circle cx="768.55" cy="437.38" r="7.53" fill="#f7f7fa"/>
<circle cx="823.07" cy="437.78" r="15.8" fill="#4f5238" opacity="0.7"/>
<circle cx="822.6" cy="437" r="14.3" fill="#cdb936"/>
<circle cx="822.6" cy="437" r="8.5" fill="#7a6e2a"/>
<circle cx="823.07" cy="437.38" r="7.59" fill="#f7f7fa"/>
<circle cx="877.6" cy="437.78" r="15.8" fill="#4f5238" opacity="0.7"/>
<circle cx="877.2" cy="437" r="14.3" fill="#cdb936"/>
<circle cx="877.2" cy="437" r="8.5" fill="#7a6e2a"/>
<circle cx="877.6" cy="437.38" r="7.65" fill="#f7f7fa"/>
<circle cx="932.12" cy="437.78" r="15.8" fill="#4f5238" opacity="0.7"/>
<circle cx="931.8" cy="437" r="14.3" fill="#cdb936"/>
<circle cx="931.8" cy="437" r="8.5" fill="#7a6e2a"/>
<circle cx="932.12" cy="437.38" r="7.7" fill="#f7f7fa"/>
<circle cx="986.64" cy="437.78" r="15.8" fill="#4f5238" opacity="0.7"/>
<circle cx="986.4" cy="437" r="14.3" fill="#cdb936"/>
<circle cx="986.4" cy="437" r="8.5" fill="#7a6e2a"/>
<circle cx="986.64" cy="437.38" r="7.75" fill="#f7f7fa"/>
<circle cx="1041.16" cy="437.78" r="15.8" fill="#4f5238" opacity="0.7"/>
<circle cx="1041" cy="437" r="14.3" fill="#cdb936"/>
<circle cx="1041" cy="437" r="8.5" fill="#7a6e2a"/>
<circle cx="1041.16" cy="437.38" r="7.79" fill="#f7f7fa"/>
<circle cx="1095.68" cy="437.78" r="15.8" fill="#4f5238" opacity="0.7"/>
<circle cx="1095.6" cy="437" r="14.3" fill="#cdb936"/>
<circle cx="1095.6" cy="437" r="8.5" fill="#7a6e2a"/>
<circle cx="1095.68" cy="437.38" r="7.81" fill="#f7f7fa"/>
<circle cx="1150.2" cy="437.78" r="15.8" fill="#4f5238" opacity="0.7"/>
<circle cx="1150.2" cy="437" r="14.3" fill="#cdb936"/>
<circle cx="1150.2" cy="437" r="8.5" fill="#7a6e2a"/>
<circle cx="1150.2" cy="437.38" r="7.82" fill="#f7f7fa"/>
<circle cx="1204.72" cy="437.78" r="15.8" fill="#4f5238" opacity="0.7"/>
<circle cx="1204.8" cy="437" r="14.3" fill="#cdb936"/>
<circle cx="1204.8" cy="437" r="8.5" fill="#7a6e2a"/>
<circle cx="1204.72" cy="437.38" r="7.81" fill="#f7f7fa"/>
<circle cx="1259.24" cy="437.78" r="15.8" fill="#4f5238" opacity="0.7"/>
<circle cx="1259.4" cy="437" r="14.3" fill="#cdb936"/>
<circle cx="1259.4" cy="437" r="8.5" fill="#7a6e2a"/>
<circle cx="1259.24" cy="437.38" r="7.79" fill="#f7f7fa"/>
<circle cx="223.35" cy="492.3" r="15.8" fill="#4f5238" opacity="0.7"/>
<circle cx="222" cy="491.6" r="14.3" fill="#cdb936"/>
<circle cx="222" cy="491.6" r="8.5" fill="#7a6e2a"/>
<circle cx="223.35" cy="491.9" r="6.82" fill="#f7f7fa"/>
<circle cx="277.87" cy="492.3" r="15.8" fill="#4f5238" opacity="0.7"/>
<circle cx="276.6" cy="491.6" r="14.3" fill="#cdb936"/>
<circle cx="276.6" cy="491.6" r="8.5" fill="#7a6e2a"/>
<circle cx="277.87" cy="491.9" r="6.9" fill="#f7f7fa"/>
<circle cx="332.39" cy="492.3" r="15.8" fill="#4f5238" opacity="0.7"/>
<circle cx="331.2" cy="491.6" r="14.3" fill="#cdb936"/>
<circle cx="331.2" cy="491.6" r="8.5" fill="#7a6e2a"/>
<circle cx="332.39" cy="491.9" r="6.97" fill="#f7f7fa"/>
<circle cx="386.91" cy="492.3" r="15.8" fill="#4f5238" opacity="0.7"/>
<circle cx="385.8" cy="491.6" r="14.3" fill="#cdb936"/>
<circle cx="385.8" cy="491.6" r="8.5" fill="#7a6e2a"/>
<circle cx="386.91" cy="491.9" r="7.05" fill="#f7f7fa"/>
<circle cx="441.43" cy="492.3" r="15.8" fill="#4f5238" opacity="0.7"/>
<circle cx="440.4" cy="491.6" r="14.3" fill="#cdb936"/>
<circle cx="440.4" cy="491.6" r="8.5" fill="#7a6e2a"/>
<circle cx="441.43" cy="491.9" r="7.13" fill="#f7f7fa"/>
<circle cx="495.95" cy="492.3" r="15.8" fill="#4f5238" opacity="0.7"/>
<circle cx="495" cy="491.6" r="14.3" fill="#cdb936"/>
<circle cx="495" cy="491.6" r="8.5" fill="#7a6e2a"/>
<circle cx="495.95" cy="491.9" r="7.2" fill="#f7f7fa"/>
<circle cx="550.47" cy="492.3" r="15.8" fill="#4f5238" opacity="0.7"/>
<circle cx="549.6" cy="491.6" r="14.3" fill="#cdb936"/>
<circle cx="549.6" cy="491.6" r="8.5" fill="#7a6e2a"/>
<circle cx="550.47" cy="491.9" r="7.28" fill="#f7f7fa"/>
<circle cx="604.99" cy="492.3" r="15.8" fill="#4f5238" opacity="0.7"/>
<circle cx="604.2" cy="491.6" r="14.3" fill="#cdb936"/>
<circle cx="604.2" cy="491.6" r="8.5" fill="#7a6e2a"/>
<circle cx="604.99" cy="491.9" r="7.35" fill="#f7f7fa"/>
<circle cx="659.51" cy="492.3" r="15.8" fill="#4f5238" opacity="0.7"/>
<circle cx="658.8" cy="491.6" r="14.3" fill="#cdb936"/>
<circle cx="658.8" cy="491.6" r="8.5" fill="#7a6e2a"/>
<circle cx="659.51" cy="491.9" r="7.43" fill="#f7f7fa"/>
<circle cx="714.03" cy="492.3" r="15.8" fill="#4f5238" opacity="0.7"/>
<circle cx="713.4" cy="491.6" r="14.3" fill="#cdb936"/>
<circle cx="713.4" cy="491.6" r="8.5" fill="#7a6e2a"/>
<circle cx="714.03" cy="491.9" r="7.5" fill="#f7f7fa"/>
<circle cx="768.55" cy="492.3" r="15.8" fill="#4f5238" opacity="0.7"/>
<circle cx="768" cy="491.6" r="14.3" fill="#cdb936"/>
<circle cx="768" cy="491.6" r="8.5" fill="#7a6e2a"/>
<circle cx="768.55" cy="491.9" r="7.57" fill="#f7f7fa"/>
<circle cx="823.07" cy="492.3" r="15.8" fill="#4f5238" opacity="0.7"/>
<circle cx="822.6" cy="491.6" r="14.3" fill="#cdb936"/>
<circle cx="822.6" cy="491.6" r="8.5" fill="#7a6e2a"/>
<circle cx="823.07" cy="491.9" r="7.64" fill="#f7f7fa"/>
<circle cx="877.6" cy="492.3" r="15.8" fill="#4f5238" opacity="0.7"/>
<circle cx="877.2" cy="491.6" r="14.3" fill="#cdb936"/>
<circle cx="877.2" cy="491.6" r="8.5" fill="#7a6e2a"/>
<circle cx="877.6" cy="491.9" r="7.7" fill="#f7f7fa"/>
<circle cx="932.12" cy="492.3" r="15.8" fill="#4f5238" opacity="0.7"/>
<circle cx="931.8" cy="491.6" r="14.3" fill="#cdb936"/>
<circle cx="931.8" cy="491.6" r="8.5" fill="#7a6e2a"/>
<circle cx="932.12" cy="491.9" r="7.76" fill="#f7f7fa"/>
<circle cx="986.64" cy="492.3" r="15.8" fill="#4f5238" opacity="0.7"/>
<circle cx="986.4" cy="491.6" r="14.3" fill="#cdb936"/>
<circle cx="986.4" cy="491.6" r="8.5" fill="#7a6e2a"/>
<circle cx="986.64" cy="491.9" r="7.82" fill="#f7f7fa"/>
<circle cx="1041.16" cy="492.3" r="15.8" fill="#4f5238" opacity="0.7"/>
<circle cx="1041" cy="491.6" r="14.3" fill="#cdb936"/>
<circle cx="1041" cy="491.6" r="8.5" fill="#7a6e2a"/>
<circle cx="1041.16" cy="491.9" r="7.86" fill="#f7f7fa"/>
<circle cx="1095.68" cy="492.3" r="15.8" fill="#4f5238" opacity="0.7"/>
<circle cx="1095.6" cy="491.6" r="14.3" fill="#cdb936"/>
<circle cx="1095.6" cy="491.6" r="8.5" fill="#7a6e2a"/>
<circle cx="1095.68" cy="491.9" r="7.89" fill="#f7f7fa"/>
<circle cx="1150.2" cy="492.3" r="15.8" fill="#4f5238" opacity="0.7"/>
<circle cx="1150.2" cy="491.6" r="14.3" fill="#cdb936"/>
<circle cx="1150.2" cy="491.6" r="8.5" fill="#7a6e2a"/>
<circle cx="1150.2" cy="491.9" r="7.9" fill="#f7f7fa"/>
<circle cx="1204.72" cy="492.3" r="15.8" fill="#4f5238" opacity="0.7"/>
<circle cx="1204.8" cy="491.6" r="14.3" fill="#cdb936"/>
<circle cx="1204.8" cy="491.6" r="8.5" fill="#7a6e2a"/>
<circle cx="1204.72" cy="491.9" r="7.89" fill="#f7f7fa"/>
<circle cx="1259.24" cy="492.3" r="15.8" fill="#4f5238" opacity="0.7"/>
<circle cx="1259.4" cy="491.6" r="14.3" fill="#cdb936"/>
<circle cx="1259.4" cy="491.6" r="8.5" fill="#7a6e2a"/>
<circle cx="1259.24" cy="491.9" r="7.86" fill="#f7f7fa"/>
<circle cx="223.35" cy="546.82" r="15.8" fill="#4f5238" opacity="0.7"/>
<circle cx="222" cy="546.2" r="14.3" fill="#cdb936"/>
<circle cx="222" cy="546.2" r="8.5" fill="#7a6e2a"/>
<circle cx="223.35" cy="546.42" r="6.84" fill="#f7f7fa"/>
<circle cx="277.87" cy="546.82" r="15.8" fill="#4f5238" opacity="0.7"/>
<circle cx="276.6" cy="546.2" r="14.3" fill="#cdb936"/>
<circle cx="276.6" cy="546.2" r="8.5" fill="#7a6e2a"/>
<circle cx="277.87" cy="546.42" r="6.91" fill="#f7f7fa"/>
<circle cx="332.39" cy="546.82" r="15.8" fill="#4f5238" opacity="0.7"/>
<circle cx="331.2" cy="546.2" r="14.3" fill="#cdb936"/>
<circle cx="331.2" cy="546.2" r="8.5" fill="#7a6e2a"/>
<circle cx="332.39" cy="546.42" r="6.99" fill="#f7f7fa"/>
<circle cx="386.91" cy="546.82" r="15.8" fill="#4f5238" opacity="0.7"/>
<circle cx="385.8" cy="546.2" r="14.3" fill="#cdb936"/>
<circle cx="385.8" cy="546.2" r="8.5" fill="#7a6e2a"/>
<circle cx="386.91" cy="546.42" r="7.07" fill="#f7f7fa"/>
<circle cx="441.43" cy="546.82" r="15.8" fill="#4f5238" opacity="0.7"/>
<circle cx="440.4" cy="546.2" r="14.3" fill="#cdb936"/>
<circle cx="440.4" cy="546.2" r="8.5" fill="#7a6e2a"/>
<circle cx="441.43" cy="546.42" r="7.15" fill="#f7f7fa"/>
<circle cx="495.95" cy="546.82" r="15.8" fill="#4f5238" opacity="0.7"/>
<circle cx="495" cy="546.2" r="14.3" fill="#cdb936"/>
<circle cx="495" cy="546.2" r="8.5" fill="#7a6e2a"/>
<circle cx="495.95" cy="546.42" r="7.22" fill="#f7f7fa"/>
<circle cx="550.47" cy="546.82" r="15.8" fill="#4f5238" opacity="0.7"/>
<circle cx="549.6" cy="546.2" r="14.3" fill="#cdb936"/>
<circle cx="549.6" cy="546.2" r="8.5" fill="#7a6e2a"/>
<circle cx="550.47" cy="546.42" r="7.3" fill="#f7f7fa"/>
<circle cx="604.99" cy="546.82" r="15.8" fill="#4f5238" opacity="0.7"/>
<circle cx="604.2" cy="546.2" r="14.3" fill="#cdb936"/>
<circle cx="604.2" cy="546.2" r="8.5" fill="#7a6e2a"/>
<circle cx="604.99" cy="546.42" r="7.38" fill="#f7f7fa"/>
<circle cx="659.51" cy="546.82" r="15.8" fill="#4f5238" opacity="0.7"/>
<circle cx="658.8" cy="546.2" r="14.3" fill="#cdb936"/>
<circle cx="658.8" cy="546.2" r="8.5" fill="#7a6e2a"/>
<circle cx="659.51" cy="546.42" r="7.45" fill="#f7f7fa"/>
<circle cx="714.03" cy="546.82" r="15.8" fill="#4f5238" opacity="0.7"/>
<circle cx="713.4" cy="546.2" r="14.3" fill="#cdb936"/>
<circle cx="713.4" cy="546.2" r="8.5" fill="#7a6e2a"/>
<circle cx="714.03" cy="546.42" r="7.53" fill="#f7f7fa"/>
<circle cx="768.55" cy="546.82" r="15.8" fill="#4f5238" opacity="0.7"/>
<circle cx="768" cy="546.2" r="14.3" fill="#cdb936"/>
<circle cx="768" cy="546.2" r="8.5" fill="#7a6e2a"/>
<circle cx="768.55" cy="546.42" r="7.6" fill="#f7f7fa"/>
<circle cx="823.07" cy="546.82" r="15.8" fill="#4f5238" opacity="0.7"/>
<circle cx="822.6" cy="546.2" r="14.3" fill="#cdb936"/>
<circle cx="822.6" cy="546.2" r="8.5" fill="#7a6e2a"/>
<circle cx="823.07" cy="546.42" r="7.68" fill="#f7f7fa"/>
<circle cx="877.6" cy="546.82" r="15.8" fill="#4f5238" opacity="0.7"/>
<circle cx="877.2" cy="546.2" r="14.3" fill="#cdb936"/>
<circle cx="877.2" cy="546.2" r="8.5" fill="#7a6e2a"/>
<circle cx="877.6" cy="546.42" r="7.75" fill="#f7f7fa"/>
<circle cx="932.12" cy="546.82" r="15.8" fill="#4f5238" opacity="0.7"/>
<circle cx="931.8" cy="546.2" r="14.3" fill="#cdb936"/>
<circle cx="931.8" cy="546.2" r="8.5" fill="#7a6e2a"/>
<circle cx="932.12" cy="546.42" r="7.81" fill="#f7f7fa"/>
<circle cx="986.64" cy="546.82" r="15.8" fill="#4f5238" opacity="0.7"/>
<circle cx="986.4" cy="546.2" r="14.3" fill="#cdb936"/>
<circle cx="986.4" cy="546.2" r="8.5" fill="#7a6e2a"/>
<circle cx="986.64" cy="546.42" r="7.87" fill="#f7f7fa"/>
<circle cx="1041.16" cy="546.82" r="15.8" fill="#4f5238" opacity="0.7"/>
<circle cx="1041" cy="546.2" r="14.3" fill="#cdb936"/>
<circle cx="1041" cy="546.2" r="8.5" fill="#7a6e2a"/>
<circle cx="1041.16" cy="546.42" r="7.93" fill="#f7f7fa"/>
<circle cx="1095.68" cy="546.82" r="15.8" fill="#4f5238" opacity="0.7"/>
<circle cx="1095.6" cy="546.2" r="14.3" fill="#cdb936"/>
<circle cx="1095.6" cy="546.2" r="8.5" fill="#7a6e2a"/>
<circle cx="1095.68" cy="546.42" r="7.96" fill="#f7f7fa"/>
<circle cx="1150.2" cy="546.82" r="15.8" fill="#4f5238" opacity="0.7"/>
<circle cx="1150.2" cy="546.2" r="14.3" fill="#cdb936"/>
<circle cx="1150.2" cy="546.2" r="8.5" fill="#7a6e2a"/>
<circle cx="1150.2" cy="546.42" r="7.98" fill="#f7f7fa"/>
<circle cx="1204.72" cy="546.82" r="15.8" fill="#4f5238" opacity="0.7"/>
<circle cx="1204.8" cy="546.2" r="14.3" fill="#cdb936"/>
<circle cx="1204.8" cy="546.2" r="8.5" fill="#7a6e2a"/>
<circle cx="1204.72" cy="546.42" r="7.96" fill="#f7f7fa"/>
<circle cx="1259.24" cy="546.82" r="15.8" fill="#4f5238" opacity="0.7"/>
<circle cx="1259.4" cy="546.2" r="14.3" fill="#cdb936"/>
<circle cx="1259.4" cy="546.2" r="8.5" fill="#7a6e2a"/>
<circle cx="1259.24" cy="546.42" r="7.93" fill="#f7f7fa"/>
<circle cx="223.35" cy="764.91" r="15.8" fill="#4f5238" opacity="0.7"/>
<circle cx="222" cy="764.6" r="14.3" fill="#cdb936"/>
<circle cx="222" cy="764.6" r="8.5" fill="#7a6e2a"/>
<circle cx="223.35" cy="764.51" r="6.85" fill="#f7f7fa"/>
<circle cx="277.87" cy="764.91" r="15.8" fill="#4f5238" opacity="0.7"/>
<circle cx="276.6" cy="764.6" r="14.3" fill="#cdb936"/>
<circle cx="276.6" cy="764.6" r="8.5" fill="#7a6e2a"/>
<circle cx="277.87" cy="764.51" r="6.93" fill="#f7f7fa"/>
<circle cx="332.39" cy="764.91" r="15.8" fill="#4f5238" opacity="0.7"/>
<circle cx="331.2" cy="764.6" r="14.3" fill="#cdb936"/>
<circle cx="331.2" cy="764.6" r="8.5" fill="#7a6e2a"/>
<circle cx="332.39" cy="764.51" r="7.01" fill="#f7f7fa"/>
<circle cx="386.91" cy="764.91" r="15.8" fill="#4f5238" opacity="0.7"/>
<circle cx="385.8" cy="764.6" r="14.3" fill="#cdb936"/>
<circle cx="385.8" cy="764.6" r="8.5" fill="#7a6e2a"/>
<circle cx="386.91" cy="764.51" r="7.09" fill="#f7f7fa"/>
<circle cx="441.43" cy="764.91" r="15.8" fill="#4f5238" opacity="0.7"/>
<circle cx="440.4" cy="764.6" r="14.3" fill="#cdb936"/>
<circle cx="440.4" cy="764.6" r="8.5" fill="#7a6e2a"/>
<circle cx="441.43" cy="764.51" r="7.17" fill="#f7f7fa"/>
<circle cx="495.95" cy="764.91" r="15.8" fill="#4f5238" opacity="0.7"/>
<circle cx="495" cy="764.6" r="14.3" fill="#cdb936"/>
<circle cx="495" cy="764.6" r="8.5" fill="#7a6e2a"/>
<circle cx="495.95" cy="764.51" r="7.25" fill="#f7f7fa"/>
<circle cx="550.47" cy="764.91" r="15.8" fill="#4f5238" opacity="0.7"/>
<circle cx="549.6" cy="764.6" r="14.3" fill="#cdb936"/>
<circle cx="549.6" cy="764.6" r="8.5" fill="#7a6e2a"/>
<circle cx="550.47" cy="764.51" r="7.32" fill="#f7f7fa"/>
<circle cx="604.99" cy="764.91" r="15.8" fill="#4f5238" opacity="0.7"/>
<circle cx="604.2" cy="764.6" r="14.3" fill="#cdb936"/>
<circle cx="604.2" cy="764.6" r="8.5" fill="#7a6e2a"/>
<circle cx="604.99" cy="764.51" r="7.4" fill="#f7f7fa"/>
<circle cx="659.51" cy="764.91" r="15.8" fill="#4f5238" opacity="0.7"/>
<circle cx="658.8" cy="764.6" r="14.3" fill="#cdb936"/>
<circle cx="658.8" cy="764.6" r="8.5" fill="#7a6e2a"/>
<circle cx="659.51" cy="764.51" r="7.48" fill="#f7f7fa"/>
<circle cx="714.03" cy="764.91" r="15.8" fill="#4f5238" opacity="0.7"/>
<circle cx="713.4" cy="764.6" r="14.3" fill="#cdb936"/>
<circle cx="713.4" cy="764.6" r="8.5" fill="#7a6e2a"/>
<circle cx="714.03" cy="764.51" r="7.56" fill="#f7f7fa"/>
<circle cx="768.55" cy="764.91" r="15.8" fill="#4f5238" opacity="0.7"/>
<circle cx="768" cy="764.6" r="14.3" fill="#cdb936"/>
<circle cx="768" cy="764.6" r="8.5" fill="#7a6e2a"/>
<circle cx="768.55" cy="764.51" r="7.64" fill="#f7f7fa"/>
<circle cx="823.07" cy="764.91" r="15.8" fill="#4f5238" opacity="0.7"/>
<circle cx="822.6" cy="764.6" r="14.3" fill="#cdb936"/>
<circle cx="822.6" cy="764.6" r="8.5" fill="#7a6e2a"/>
<circle cx="823.07" cy="764.51" r="7.72" fill="#f7f7fa"/>
<circle cx="877.6" cy="764.91" r="15.8" fill="#4f5238" opacity="0.7"/>
<circle cx="877.2" cy="764.6" r="14.3" fill="#cdb936"/>
<circle cx="877.2" cy="764.6" r="8.5" fill="#7a6e2a"/>
<circle cx="877.6" cy="764.51" r="7.79" fill="#f7f7fa"/>
<circle cx="932.12" cy="764.91" r="15.8" fill="#4f5238" opacity="0.7"/>
<circle cx="931.8" cy="764.6" r="14.3" fill="#cdb936"/>
<circle cx="931.8" cy="764.6" r="8.5" fill="#7a6e2a"/>
<circle cx="932.12" cy="764.51" r="7.87" fill="#f7f7fa"/>
<circle cx="986.64" cy="764.91" r="15.8" fill="#4f5238" opacity="0.7"/>
<circle cx="986.4" cy="764.6" r="14.3" fill="#cdb936"/>
<circle cx="986.4" cy="764.6" r="8.5" fill="#7a6e2a"/>
<circle cx="986.64" cy="764.51" r="7.94" fill="#f7f7fa"/>
<circle cx="1041.16" cy="764.91" r="15.8" fill="#4f5238" opacity="0.7"/>
<circle cx="1041" cy="764.6" r="14.3" fill="#cdb936"/>
<circle cx="1041" cy="764.6" r="8.5" fill="#7a6e2a"/>
<circle cx="1041.16" cy="764.51" r="8.02" fill="#f7f7fa"/>
<circle cx="1095.68" cy="764.91" r="15.8" fill="#4f5238" opacity="0.7"/>
<circle cx="1095.6" cy="764.6" r="14.3" fill="#cdb936"/>
<circle cx="1095.6" cy="764.6" r="8.5" fill="#7a6e2a"/>
<circle cx="1095.68" cy="764.51" r="8.08" fill="#f7f7fa"/>
<circle cx="1150.2" cy="764.91" r="15.8" fill="#4f5238" opacity="0.7"/>
<circle cx="1150.2" cy="764.6" r="14.3" fill="#cdb936"/>
<circle cx="1150.2" cy="764.6" r="8.5" fill="#7a6e2a"/>
<circle cx="1150.2" cy="764.51" r="8.11" fill="#f7f7fa"/>
<circle cx="1204.72" cy="764.91" r="15.8" fill="#4f5238" opacity="0.7"/>
<circle cx="1204.8" cy="764.6" r="14.3" fill="#cdb936"/>
<circle cx="1204.8" cy="764.6" r="8.5" fill="#7a6e2a"/>
<circle cx="1204.72" cy="764.51" r="8.08" fill="#f7f7fa"/>
<circle cx="1259.24" cy="764.91" r="15.8" fill="#4f5238" opacity="0.7"/>
<circle cx="1259.4" cy="764.6" r="14.3" fill="#cdb936"/>
<circle cx="1259.4" cy="764.6" r="8.5" fill="#7a6e2a"/>
<circle cx="1259.24" cy="764.51" r="8.02" fill="#f7f7fa"/>
<circle cx="223.35" cy="819.43" r="15.8" fill="#4f5238" opacity="0.7"/>
<circle cx="222" cy="819.2" r="14.3" fill="#cdb936"/>
<circle cx="222" cy="819.2" r="8.5" fill="#7a6e2a"/>
<circle cx="223.35" cy="819.03" r="6.84" fill="#f7f7fa"/>
<circle cx="277.87" cy="819.43" r="15.8" fill="#4f5238" opacity="0.7"/>
<circle cx="276.6" cy="819.2" r="14.3" fill="#cdb936"/>
<circle cx="276.6" cy="819.2" r="8.5" fill="#7a6e2a"/>
<circle cx="277.87" cy="819.03" r="6.92" fill="#f7f7fa"/>
<circle cx="332.39" cy="819.43" r="15.8" fill="#4f5238" opacity="0.7"/>
<circle cx="331.2" cy="819.2" r="14.3" fill="#cdb936"/>
<circle cx="331.2" cy="819.2" r="8.5" fill="#7a6e2a"/>
<circle cx="332.39" cy="819.03" r="7" fill="#f7f7fa"/>
<circle cx="386.91" cy="819.43" r="15.8" fill="#4f5238" opacity="0.7"/>
<circle cx="385.8" cy="819.2" r="14.3" fill="#cdb936"/>
<circle cx="385.8" cy="819.2" r="8.5" fill="#7a6e2a"/>
<circle cx="386.91" cy="819.03" r="7.08" fill="#f7f7fa"/>
<circle cx="441.43" cy="819.43" r="15.8" fill="#4f5238" opacity="0.7"/>
<circle cx="440.4" cy="819.2" r="14.3" fill="#cdb936"/>
<circle cx="440.4" cy="819.2" r="8.5" fill="#7a6e2a"/>
<circle cx="441.43" cy="819.03" r="7.16" fill="#f7f7fa"/>
<circle cx="495.95" cy="819.43" r="15.8" fill="#4f5238" opacity="0.7"/>
<circle cx="495" cy="819.2" r="14.3" fill="#cdb936"/>
<circle cx="495" cy="819.2" r="8.5" fill="#7a6e2a"/>
<circle cx="495.95" cy="819.03" r="7.23" fill="#f7f7fa"/>
<circle cx="550.47" cy="819.43" r="15.8" fill="#4f5238" opacity="0.7"/>
<circle cx="549.6" cy="819.2" r="14.3" fill="#cdb936"/>
<circle cx="549.6" cy="819.2" r="8.5" fill="#7a6e2a"/>
<circle cx="550.47" cy="819.03" r="7.31" fill="#f7f7fa"/>
<circle cx="604.99" cy="819.43" r="15.8" fill="#4f5238" opacity="0.7"/>
<circle cx="604.2" cy="819.2" r="14.3" fill="#cdb936"/>
<circle cx="604.2" cy="819.2" r="8.5" fill="#7a6e2a"/>
<circle cx="604.99" cy="819.03" r="7.39" fill="#f7f7fa"/>
<circle cx="659.51" cy="819.43" r="15.8" fill="#4f5238" opacity="0.7"/>
<circle cx="658.8" cy="819.2" r="14.3" fill="#cdb936"/>
<circle cx="658.8" cy="819.2" r="8.5" fill="#7a6e2a"/>
<circle cx="659.51" cy="819.03" r="7.47" fill="#f7f7fa"/>
<circle cx="714.03" cy="819.43" r="15.8" fill="#4f5238" opacity="0.7"/>
<circle cx="713.4" cy="819.2" r="14.3" fill="#cdb936"/>
<circle cx="713.4" cy="819.2" r="8.5" fill="#7a6e2a"/>
<circle cx="714.03" cy="819.03" r="7.54" fill="#f7f7fa"/>
<circle cx="768.55" cy="819.43" r="15.8" fill="#4f5238" opacity="0.7"/>
<circle cx="768" cy="819.2" r="14.3" fill="#cdb936"/>
<circle cx="768" cy="819.2" r="8.5" fill="#7a6e2a"/>
<circle cx="768.55" cy="819.03" r="7.62" fill="#f7f7fa"/>
<circle cx="823.07" cy="819.43" r="15.8" fill="#4f5238" opacity="0.7"/>
<circle cx="822.6" cy="819.2" r="14.3" fill="#cdb936"/>
<circle cx="822.6" cy="819.2" r="8.5" fill="#7a6e2a"/>
<circle cx="823.07" cy="819.03" r="7.69" fill="#f7f7fa"/>
<circle cx="877.6" cy="819.43" r="15.8" fill="#4f5238" opacity="0.7"/>
<circle cx="877.2" cy="819.2" r="14.3" fill="#cdb936"/>
<circle cx="877.2" cy="819.2" r="8.5" fill="#7a6e2a"/>
<circle cx="877.6" cy="819.03" r="7.77" fill="#f7f7fa"/>
<circle cx="932.12" cy="819.43" r="15.8" fill="#4f5238" opacity="0.7"/>
<circle cx="931.8" cy="819.2" r="14.3" fill="#cdb936"/>
<circle cx="931.8" cy="819.2" r="8.5" fill="#7a6e2a"/>
<circle cx="932.12" cy="819.03" r="7.84" fill="#f7f7fa"/>
<circle cx="986.64" cy="819.43" r="15.8" fill="#4f5238" opacity="0.7"/>
<circle cx="986.4" cy="819.2" r="14.3" fill="#cdb936"/>
<circle cx="986.4" cy="819.2" r="8.5" fill="#7a6e2a"/>
<circle cx="986.64" cy="819.03" r="7.91" fill="#f7f7fa"/>
<circle cx="1041.16" cy="819.43" r="15.8" fill="#4f5238" opacity="0.7"/>
<circle cx="1041" cy="819.2" r="14.3" fill="#cdb936"/>
<circle cx="1041" cy="819.2" r="8.5" fill="#7a6e2a"/>
<circle cx="1041.16" cy="819.03" r="7.97" fill="#f7f7fa"/>
<circle cx="1095.68" cy="819.43" r="15.8" fill="#4f5238" opacity="0.7"/>
<circle cx="1095.6" cy="819.2" r="14.3" fill="#cdb936"/>
<circle cx="1095.6" cy="819.2" r="8.5" fill="#7a6e2a"/>
<circle cx="1095.68" cy="819.03" r="8.01" fill="#f7f7fa"/>
<circle cx="1150.2" cy="819.43" r="15.8" fill="#4f5238" opacity="0.7"/>
<circle cx="1150.2" cy="819.2" r="14.3" fill="#cdb936"/>
<circle cx="1150.2" cy="819.2" r="8.5" fill="#7a6e2a"/>
<circle cx="1150.2" cy="819.03" r="8.03" fill="#f7f7fa"/>
<circle cx="1204.72" cy="819.43" r="15.8" fill="#4f5238" opacity="0.7"/>
<circle cx="1204.8" cy="819.2" r="14.3" fill="#cdb936"/>
<circle cx="1204.8" cy="819.2" r="8.5" fill="#7a6e2a"/>
<circle cx="1204.72" cy="819.03" r="8.01" fill="#f7f7fa"/>
<circle cx="1259.24" cy="819.43" r="15.8" fill="#4f5238" opacity="0.7"/>
<circle cx="1259.4" cy="819.2" r="14.3" fill="#cdb936"/>
<circle cx="1259.4" cy="819.2" r="8.5" fill="#7a6e2a"/>
<circle cx="1259.24" cy="819.03" r="7.97" fill="#f7f7fa"/>
<circle cx="223.35" cy="873.95" r="15.8" fill="#4f5238" opacity="0.7"/>
<circle cx="222" cy="873.8" r="14.3" fill="#cdb936"/>
<circle cx="222" cy="873.8" r="8.5" fill="#7a6e2a"/>
<circle cx="223.35" cy="873.55" r="6.83" fill="#f7f7fa"/>
<circle cx="277.87" cy="873.95" r="15.8" fill="#4f5238" opacity="0.7"/>
<circle cx="276.6" cy="873.8" r="14.3" fill="#cdb936"/>
<circle cx="276.6" cy="873.8" r="8.5" fill="#7a6e2a"/>
<circle cx="277.87" cy="873.55" r="6.91" fill="#f7f7fa"/>
<circle cx="332.39" cy="873.95" r="15.8" fill="#4f5238" opacity="0.7"/>
<circle cx="331.2" cy="873.8" r="14.3" fill="#cdb936"/>
<circle cx="331.2" cy="873.8" r="8.5" fill="#7a6e2a"/>
<circle cx="332.39" cy="873.55" r="6.99" fill="#f7f7fa"/>
<circle cx="386.91" cy="873.95" r="15.8" fill="#4f5238" opacity="0.7"/>
<circle cx="385.8" cy="873.8" r="14.3" fill="#cdb936"/>
<circle cx="385.8" cy="873.8" r="8.5" fill="#7a6e2a"/>
<circle cx="386.91" cy="873.55" r="7.06" fill="#f7f7fa"/>
<circle cx="441.43" cy="873.95" r="15.8" fill="#4f5238" opacity="0.7"/>
<circle cx="440.4" cy="873.8" r="14.3" fill="#cdb936"/>
<circle cx="440.4" cy="873.8" r="8.5" fill="#7a6e2a"/>
<circle cx="441.43" cy="873.55" r="7.14" fill="#f7f7fa"/>
<circle cx="495.95" cy="873.95" r="15.8" fill="#4f5238" opacity="0.7"/>
<circle cx="495" cy="873.8" r="14.3" fill="#cdb936"/>
<circle cx="495" cy="873.8" r="8.5" fill="#7a6e2a"/>
<circle cx="495.95" cy="873.55" r="7.22" fill="#f7f7fa"/>
<circle cx="550.47" cy="873.95" r="15.8" fill="#4f5238" opacity="0.7"/>
<circle cx="549.6" cy="873.8" r="14.3" fill="#cdb936"/>
<circle cx="549.6" cy="873.8" r="8.5" fill="#7a6e2a"/>
<circle cx="550.47" cy="873.55" r="7.29" fill="#f7f7fa"/>
<circle cx="604.99" cy="873.95" r="15.8" fill="#4f5238" opacity="0.7"/>
<circle cx="604.2" cy="873.8" r="14.3" fill="#cdb936"/>
<circle cx="604.2" cy="873.8" r="8.5" fill="#7a6e2a"/>
<circle cx="604.99" cy="873.55" r="7.37" fill="#f7f7fa"/>
<circle cx="659.51" cy="873.95" r="15.8" fill="#4f5238" opacity="0.7"/>
<circle cx="658.8" cy="873.8" r="14.3" fill="#cdb936"/>
<circle cx="658.8" cy="873.8" r="8.5" fill="#7a6e2a"/>
<circle cx="659.51" cy="873.55" r="7.44" fill="#f7f7fa"/>
<circle cx="714.03" cy="873.95" r="15.8" fill="#4f5238" opacity="0.7"/>
<circle cx="713.4" cy="873.8" r="14.3" fill="#cdb936"/>
<circle cx="713.4" cy="873.8" r="8.5" fill="#7a6e2a"/>
<circle cx="714.03" cy="873.55" r="7.52" fill="#f7f7fa"/>
<circle cx="768.55" cy="873.95" r="15.8" fill="#4f5238" opacity="0.7"/>
<circle cx="768" cy="873.8" r="14.3" fill="#cdb936"/>
<circle cx="768" cy="873.8" r="8.5" fill="#7a6e2a"/>
<circle cx="768.55" cy="873.55" r="7.59" fill="#f7f7fa"/>
<circle cx="823.07" cy="873.95" r="15.8" fill="#4f5238" opacity="0.7"/>
<circle cx="822.6" cy="873.8" r="14.3" fill="#cdb936"/>
<circle cx="822.6" cy="873.8" r="8.5" fill="#7a6e2a"/>
<circle cx="823.07" cy="873.55" r="7.66" fill="#f7f7fa"/>
<circle cx="877.6" cy="873.95" r="15.8" fill="#4f5238" opacity="0.7"/>
<circle cx="877.2" cy="873.8" r="14.3" fill="#cdb936"/>
<circle cx="877.2" cy="873.8" r="8.5" fill="#7a6e2a"/>
<circle cx="877.6" cy="873.55" r="7.73" fill="#f7f7fa"/>
<circle cx="932.12" cy="873.95" r="15.8" fill="#4f5238" opacity="0.7"/>
<circle cx="931.8" cy="873.8" r="14.3" fill="#cdb936"/>
<circle cx="931.8" cy="873.8" r="8.5" fill="#7a6e2a"/>
<circle cx="932.12" cy="873.55" r="7.8" fill="#f7f7fa"/>
<circle cx="986.64" cy="873.95" r="15.8" fill="#4f5238" opacity="0.7"/>
<circle cx="986.4" cy="873.8" r="14.3" fill="#cdb936"/>
<circle cx="986.4" cy="873.8" r="8.5" fill="#7a6e2a"/>
<circle cx="986.64" cy="873.55" r="7.85" fill="#f7f7fa"/>
<circle cx="1041.16" cy="873.95" r="15.8" fill="#4f5238" opacity="0.7"/>
<circle cx="1041" cy="873.8" r="14.3" fill="#cdb936"/>
<circle cx="1041" cy="873.8" r="8.5" fill="#7a6e2a"/>
<circle cx="1041.16" cy="873.55" r="7.9" fill="#f7f7fa"/>
<circle cx="1095.68" cy="873.95" r="15.8" fill="#4f5238" opacity="0.7"/>
<circle cx="1095.6" cy="873.8" r="14.3" fill="#cdb936"/>
<circle cx="1095.6" cy="873.8" r="8.5" fill="#7a6e2a"/>
<circle cx="1095.68" cy="873.55" r="7.94" fill="#f7f7fa"/>
<circle cx="1150.2" cy="873.95" r="15.8" fill="#4f5238" opacity="0.7"/>
<circle cx="1150.2" cy="873.8" r="14.3" fill="#cdb936"/>
<circle cx="1150.2" cy="873.8" r="8.5" fill="#7a6e2a"/>
<circle cx="1150.2" cy="873.55" r="7.95" fill="#f7f7fa"/>
<circle cx="1204.72" cy="873.95" r="15.8" fill="#4f5238" opacity="0.7"/>
<circle cx="1204.8" cy="873.8" r="14.3" fill="#cdb936"/>
<circle cx="1204.8" cy="873.8" r="8.5" fill="#7a6e2a"/>
<circle cx="1204.72" cy="873.55" r="7.94" fill="#f7f7fa"/>
<circle cx="1259.24" cy="873.95" r="15.8" fill="#4f5238" opacity="0.7"/>
<circle cx="1259.4" cy="873.8" r="14.3" fill="#cdb936"/>
<circle cx="1259.4" cy="873.8" r="8.5" fill="#7a6e2a"/>
<circle cx="1259.24" cy="873.55" r="7.9" fill="#f7f7fa"/>
<circle cx="223.35" cy="928.47" r="15.8" fill="#4f5238" opacity="0.7"/>
<circle cx="222" cy="928.4" r="14.3" fill="#cdb936"/>
<circle cx="222" cy="928.4" r="8.5" fill="#7a6e2a"/>
<circle cx="223.35" cy="928.07" r="6.81" fill="#f7f7fa"/>
<circle cx="277.87" cy="928.47" r="15.8" fill="#4f5238" opacity="0.7"/>
<circle cx="276.6" cy="928.4" r="14.3" fill="#cdb936"/>
<circle cx="276.6" cy="928.4" r="8.5" fill="#7a6e2a"/>
<circle cx="277.87" cy="928.07" r="6.89" fill="#f7f7fa"/>
<circle cx="332.39" cy="928.47" r="15.8" fill="#4f5238" opacity="0.7"/>
<circle cx="331.2" cy="928.4" r="14.3" fill="#cdb936"/>
<circle cx="331.2" cy="928.4" r="8.5" fill="#7a6e2a"/>
<circle cx="332.39" cy="928.07" r="6.97" fill="#f7f7fa"/>
<circle cx="386.91" cy="928.47" r="15.8" fill="#4f5238" opacity="0.7"/>
<circle cx="385.8" cy="928.4" r="14.3" fill="#cdb936"/>
<circle cx="385.8" cy="928.4" r="8.5" fill="#7a6e2a"/>
<circle cx="386.91" cy="928.07" r="7.04" fill="#f7f7fa"/>
<circle cx="441.43" cy="928.47" r="15.8" fill="#4f5238" opacity="0.7"/>
<circle cx="440.4" cy="928.4" r="14.3" fill="#cdb936"/>
<circle cx="440.4" cy="928.4" r="8.5" fill="#7a6e2a"/>
<circle cx="441.43" cy="928.07" r="7.12" fill="#f7f7fa"/>
<circle cx="495.95" cy="928.47" r="15.8" fill="#4f5238" opacity="0.7"/>
<circle cx="495" cy="928.4" r="14.3" fill="#cdb936"/>
<circle cx="495" cy="928.4" r="8.5" fill="#7a6e2a"/>
<circle cx="495.95" cy="928.07" r="7.19" fill="#f7f7fa"/>
<circle cx="550.47" cy="928.47" r="15.8" fill="#4f5238" opacity="0.7"/>
<circle cx="549.6" cy="928.4" r="14.3" fill="#cdb936"/>
<circle cx="549.6" cy="928.4" r="8.5" fill="#7a6e2a"/>
<circle cx="550.47" cy="928.07" r="7.27" fill="#f7f7fa"/>
<circle cx="604.99" cy="928.47" r="15.8" fill="#4f5238" opacity="0.7"/>
<circle cx="604.2" cy="928.4" r="14.3" fill="#cdb936"/>
<circle cx="604.2" cy="928.4" r="8.5" fill="#7a6e2a"/>
<circle cx="604.99" cy="928.07" r="7.34" fill="#f7f7fa"/>
<circle cx="659.51" cy="928.47" r="15.8" fill="#4f5238" opacity="0.7"/>
<circle cx="658.8" cy="928.4" r="14.3" fill="#cdb936"/>
<circle cx="658.8" cy="928.4" r="8.5" fill="#7a6e2a"/>
<circle cx="659.51" cy="928.07" r="7.41" fill="#f7f7fa"/>
<circle cx="714.03" cy="928.47" r="15.8" fill="#4f5238" opacity="0.7"/>
<circle cx="713.4" cy="928.4" r="14.3" fill="#cdb936"/>
<circle cx="713.4" cy="928.4" r="8.5" fill="#7a6e2a"/>
<circle cx="714.03" cy="928.07" r="7.49" fill="#f7f7fa"/>
<circle cx="768.55" cy="928.47" r="15.8" fill="#4f5238" opacity="0.7"/>
<circle cx="768" cy="928.4" r="14.3" fill="#cdb936"/>
<circle cx="768" cy="928.4" r="8.5" fill="#7a6e2a"/>
<circle cx="768.55" cy="928.07" r="7.55" fill="#f7f7fa"/>
<circle cx="823.07" cy="928.47" r="15.8" fill="#4f5238" opacity="0.7"/>
<circle cx="822.6" cy="928.4" r="14.3" fill="#cdb936"/>
<circle cx="822.6" cy="928.4" r="8.5" fill="#7a6e2a"/>
<circle cx="823.07" cy="928.07" r="7.62" fill="#f7f7fa"/>
<circle cx="877.6" cy="928.47" r="15.8" fill="#4f5238" opacity="0.7"/>
<circle cx="877.2" cy="928.4" r="14.3" fill="#cdb936"/>
<circle cx="877.2" cy="928.4" r="8.5" fill="#7a6e2a"/>
<circle cx="877.6" cy="928.07" r="7.68" fill="#f7f7fa"/>
<circle cx="932.12" cy="928.47" r="15.8" fill="#4f5238" opacity="0.7"/>
<circle cx="931.8" cy="928.4" r="14.3" fill="#cdb936"/>
<circle cx="931.8" cy="928.4" r="8.5" fill="#7a6e2a"/>
<circle cx="932.12" cy="928.07" r="7.74" fill="#f7f7fa"/>
<circle cx="986.64" cy="928.47" r="15.8" fill="#4f5238" opacity="0.7"/>
<circle cx="986.4" cy="928.4" r="14.3" fill="#cdb936"/>
<circle cx="986.4" cy="928.4" r="8.5" fill="#7a6e2a"/>
<circle cx="986.64" cy="928.07" r="7.79" fill="#f7f7fa"/>
<circle cx="1041.16" cy="928.47" r="15.8" fill="#4f5238" opacity="0.7"/>
<circle cx="1041" cy="928.4" r="14.3" fill="#cdb936"/>
<circle cx="1041" cy="928.4" r="8.5" fill="#7a6e2a"/>
<circle cx="1041.16" cy="928.07" r="7.83" fill="#f7f7fa"/>
<circle cx="1095.68" cy="928.47" r="15.8" fill="#4f5238" opacity="0.7"/>
<circle cx="1095.6" cy="928.4" r="14.3" fill="#cdb936"/>
<circle cx="1095.6" cy="928.4" r="8.5" fill="#7a6e2a"/>
<circle cx="1095.68" cy="928.07" r="7.86" fill="#f7f7fa"/>
<circle cx="1150.2" cy="928.47" r="15.8" fill="#4f5238" opacity="0.7"/>
<circle cx="1150.2" cy="928.4" r="14.3" fill="#cdb936"/>
<circle cx="1150.2" cy="928.4" r="8.5" fill="#7a6e2a"/>
<circle cx="1150.2" cy="928.07" r="7.87" fill="#f7f7fa"/>
<circle cx="1204.72" cy="928.47" r="15.8" fill="#4f5238" opacity="0.7"/>
<circle cx="1204.8" cy="928.4" r="14.3" fill="#cdb936"/>
<circle cx="1204.8" cy="928.4" r="8.5" fill="#7a6e2a"/>
<circle cx="1204.72" cy="928.07" r="7.86" fill="#f7f7fa"/>
<circle cx="1259.24" cy="928.47" r="15.8" fill="#4f5238" opacity="0.7"/>
<circle cx="1259.4" cy="928.4" r="14.3" fill="#cdb936"/>
<circle cx="1259.4" cy="928.4" r="8.5" fill="#7a6e2a"/>
<circle cx="1259.24" cy="928.07" r="7.83" fill="#f7f7fa"/>
<rect x="207.35" y="585.34" width="32" height="32" fill="#4f5238" opacity="0.7"/>
<rect x="207.5" y="586.3" width="29" height="29" fill="#cdb936"/>
<circle cx="222" cy="600.8" r="8.5" fill="#7a6e2a"/>
<circle cx="223.35" cy="600.94" r="6.85" fill="#f7f7fa"/>
<rect x="261.87" y="585.34" width="32" height="32" fill="#4f5238" opacity="0.7"/>
<rect x="262.1" y="586.3" width="29" height="29" fill="#cdb936"/>
<circle cx="276.6" cy="600.8" r="8.5" fill="#7a6e2a"/>
<circle cx="277.87" cy="600.94" r="6.93" fill="#f7f7fa"/>
<rect x="316.39" y="585.34" width="32" height="32" fill="#4f5238" opacity="0.7"/>
<rect x="316.7" y="586.3" width="29" height="29" fill="#cdb936"/>
<circle cx="331.2" cy="600.8" r="8.5" fill="#7a6e2a"/>
<circle cx="332.39" cy="600.94" r="7" fill="#f7f7fa"/>
<rect x="370.91" y="585.34" width="32" height="32" fill="#4f5238" opacity="0.7"/>
<rect x="371.3" y="586.3" width="29" height="29" fill="#cdb936"/>
<circle cx="385.8" cy="600.8" r="8.5" fill="#7a6e2a"/>
<circle cx="386.91" cy="600.94" r="7.08" fill="#f7f7fa"/>
<rect x="425.43" y="585.34" width="32" height="32" fill="#4f5238" opacity="0.7"/>
<rect x="425.9" y="586.3" width="29" height="29" fill="#cdb936"/>
<circle cx="440.4" cy="600.8" r="8.5" fill="#7a6e2a"/>
<circle cx="441.43" cy="600.94" r="7.16" fill="#f7f7fa"/>
<rect x="479.95" y="585.34" width="32" height="32" fill="#4f5238" opacity="0.7"/>
<rect x="480.5" y="586.3" width="29" height="29" fill="#cdb936"/>
<circle cx="495" cy="600.8" r="8.5" fill="#7a6e2a"/>
<circle cx="495.95" cy="600.94" r="7.24" fill="#f7f7fa"/>
<rect x="534.47" y="585.34" width="32" height="32" fill="#4f5238" opacity="0.7"/>
<rect x="535.1" y="586.3" width="29" height="29" fill="#cdb936"/>
<circle cx="549.6" cy="600.8" r="8.5" fill="#7a6e2a"/>
<circle cx="550.47" cy="600.94" r="7.32" fill="#f7f7fa"/>
<rect x="588.99" y="585.34" width="32" height="32" fill="#4f5238" opacity="0.7"/>
<rect x="589.7" y="586.3" width="29" height="29" fill="#cdb936"/>
<circle cx="604.2" cy="600.8" r="8.5" fill="#7a6e2a"/>
<circle cx="604.99" cy="600.94" r="7.4" fill="#f7f7fa"/>
<rect x="643.51" y="585.34" width="32" height="32" fill="#4f5238" opacity="0.7"/>
<rect x="644.3" y="586.3" width="29" height="29" fill="#cdb936"/>
<circle cx="658.8" cy="600.8" r="8.5" fill="#7a6e2a"/>
<circle cx="659.51" cy="600.94" r="7.47" fill="#f7f7fa"/>
<rect x="698.03" y="585.34" width="32" height="32" fill="#4f5238" opacity="0.7"/>
<rect x="698.9" y="586.3" width="29" height="29" fill="#cdb936"/>
<circle cx="713.4" cy="600.8" r="8.5" fill="#7a6e2a"/>
<circle cx="714.03" cy="600.94" r="7.55" fill="#f7f7fa"/>
<rect x="752.55" y="585.34" width="32" height="32" fill="#4f5238" opacity="0.7"/>
<rect x="753.5" y="586.3" width="29" height="29" fill="#cdb936"/>
<circle cx="768" cy="600.8" r="8.5" fill="#7a6e2a"/>
<circle cx="768.55" cy="600.94" r="7.63" fill="#f7f7fa"/>
<rect x="807.07" y="585.34" width="32" height="32" fill="#4f5238" opacity="0.7"/>
<rect x="808.1" y="586.3" width="29" height="29" fill="#cdb936"/>
<circle cx="822.6" cy="600.8" r="8.5" fill="#7a6e2a"/>
<circle cx="823.07" cy="600.94" r="7.7" fill="#f7f7fa"/>
<rect x="861.6" y="585.34" width="32" height="32" fill="#4f5238" opacity="0.7"/>
<rect x="862.7" y="586.3" width="29" height="29" fill="#cdb936"/>
<circle cx="877.2" cy="600.8" r="8.5" fill="#7a6e2a"/>
<circle cx="877.6" cy="600.94" r="7.78" fill="#f7f7fa"/>
<rect x="916.12" y="585.34" width="32" height="32" fill="#4f5238" opacity="0.7"/>
<rect x="917.3" y="586.3" width="29" height="29" fill="#cdb936"/>
<circle cx="931.8" cy="600.8" r="8.5" fill="#7a6e2a"/>
<circle cx="932.12" cy="600.94" r="7.85" fill="#f7f7fa"/>
<rect x="970.64" y="585.34" width="32" height="32" fill="#4f5238" opacity="0.7"/>
<rect x="971.9" y="586.3" width="29" height="29" fill="#cdb936"/>
<circle cx="986.4" cy="600.8" r="8.5" fill="#7a6e2a"/>
<circle cx="986.64" cy="600.94" r="7.92" fill="#f7f7fa"/>
<rect x="1025.16" y="585.34" width="32" height="32" fill="#4f5238" opacity="0.7"/>
<rect x="1026.5" y="586.3" width="29" height="29" fill="#cdb936"/>
<circle cx="1041" cy="600.8" r="8.5" fill="#7a6e2a"/>
<circle cx="1041.16" cy="600.94" r="7.99" fill="#f7f7fa"/>
<rect x="1079.68" y="585.34" width="32" height="32" fill="#4f5238" opacity="0.7"/>
<rect x="1081.1" y="586.3" width="29" height="29" fill="#cdb936"/>
<circle cx="1095.6" cy="600.8" r="8.5" fill="#7a6e2a"/>
<circle cx="1095.68" cy="600.94" r="8.04" fill="#f7f7fa"/>
<rect x="1134.2" y="585.34" width="32" height="32" fill="#4f5238" opacity="0.7"/>
<rect x="1135.7" y="586.3" width="29" height="29" fill="#cdb936"/>
<circle cx="1150.2" cy="600.8" r="8.5" fill="#7a6e2a"/>
<circle cx="1150.2" cy="600.94" r="8.06" fill="#f7f7fa"/>
<rect x="1188.72" y="585.34" width="32" height="32" fill="#4f5238" opacity="0.7"/>
<rect x="1190.3" y="586.3" width="29" height="29" fill="#cdb936"/>
<circle cx="1204.8" cy="600.8" r="8.5" fill="#7a6e2a"/>
<circle cx="1204.72" cy="600.94" r="8.04" fill="#f7f7fa"/>
<rect x="1243.24" y="585.34" width="32" height="32" fill="#4f5238" opacity="0.7"/>
<rect x="1244.9" y="586.3" width="29" height="29" fill="#cdb936"/>
<circle cx="1259.4" cy="600.8" r="8.5" fill="#7a6e2a"/>
<circle cx="1259.24" cy="600.94" r="7.99" fill="#f7f7fa"/>
<rect x="207.35" y="966.99" width="32" height="32" fill="#4f5238" opacity="0.7"/>
<rect x="207.5" y="968.5" width="29" height="29" fill="#cdb936"/>
<circle cx="222" cy="983" r="8.5" fill="#7a6e2a"/>
<circle cx="223.35" cy="982.59" r="6.79" fill="#f7f7fa"/>
<rect x="261.87" y="966.99" width="32" height="32" fill="#4f5238" opacity="0.7"/>
<rect x="262.1" y="968.5" width="29" height="29" fill="#cdb936"/>
<circle cx="276.6" cy="983" r="8.5" fill="#7a6e2a"/>
<circle cx="277.87" cy="982.59" r="6.87" fill="#f7f7fa"/>
<rect x="316.39" y="966.99" width="32" height="32" fill="#4f5238" opacity="0.7"/>
<rect x="316.7" y="968.5" width="29" height="29" fill="#cdb936"/>
<circle cx="331.2" cy="983" r="8.5" fill="#7a6e2a"/>
<circle cx="332.39" cy="982.59" r="6.94" fill="#f7f7fa"/>
<rect x="370.91" y="966.99" width="32" height="32" fill="#4f5238" opacity="0.7"/>
<rect x="371.3" y="968.5" width="29" height="29" fill="#cdb936"/>
<circle cx="385.8" cy="983" r="8.5" fill="#7a6e2a"/>
<circle cx="386.91" cy="982.59" r="7.02" fill="#f7f7fa"/>
<rect x="425.43" y="966.99" width="32" height="32" fill="#4f5238" opacity="0.7"/>
<rect x="425.9" y="968.5" width="29" height="29" fill="#cdb936"/>
<circle cx="440.4" cy="983" r="8.5" fill="#7a6e2a"/>
<circle cx="441.43" cy="982.59" r="7.09" fill="#f7f7fa"/>
<rect x="479.95" y="966.99" width="32" height="32" fill="#4f5238" opacity="0.7"/>
<rect x="480.5" y="968.5" width="29" height="29" fill="#cdb936"/>
<circle cx="495" cy="983" r="8.5" fill="#7a6e2a"/>
<circle cx="495.95" cy="982.59" r="7.17" fill="#f7f7fa"/>
<rect x="534.47" y="966.99" width="32" height="32" fill="#4f5238" opacity="0.7"/>
<rect x="535.1" y="968.5" width="29" height="29" fill="#cdb936"/>
<circle cx="549.6" cy="983" r="8.5" fill="#7a6e2a"/>
<circle cx="550.47" cy="982.59" r="7.24" fill="#f7f7fa"/>
<rect x="588.99" y="966.99" width="32" height="32" fill="#4f5238" opacity="0.7"/>
<rect x="589.7" y="968.5" width="29" height="29" fill="#cdb936"/>
<circle cx="604.2" cy="983" r="8.5" fill="#7a6e2a"/>
<circle cx="604.99" cy="982.59" r="7.31" fill="#f7f7fa"/>
<rect x="643.51" y="966.99" width="32" height="32" fill="#4f5238" opacity="0.7"/>
<rect x="644.3" y="968.5" width="29" height="29" fill="#cdb936"/>
<circle cx="658.8" cy="983" r="8.5" fill="#7a6e2a"/>
<circle cx="659.51" cy="982.59" r="7.38" fill="#f7f7fa"/>
<rect x="698.03" y="966.99" width="32" height="32" fill="#4f5238" opacity="0.7"/>
<rect x="698.9" y="968.5" width="29" height="29" fill="#cdb936"/>
<circle cx="713.4" cy="983" r="8.5" fill="#7a6e2a"/>
<circle cx="714.03" cy="982.59" r="7.45" fill="#f7f7fa"/>
<rect x="752.55" y="966.99" width="32" height="32" fill="#4f5238" opacity="0.7"/>
<rect x="753.5" y="968.5" width="29" height="29" fill="#cdb936"/>
<circle cx="768" cy="983" r="8.5" fill="#7a6e2a"/>
<circle cx="768.55" cy="982.59" r="7.51" fill="#f7f7fa"/>
<rect x="807.07" y="966.99" width="32" height="32" fill="#4f5238" opacity="0.7"/>
<rect x="808.1" y="968.5" width="29" height="29" fill="#cdb936"/>
<circle cx="822.6" cy="983" r="8.5" fill="#7a6e2a"/>
<circle cx="823.07" cy="982.59" r="7.57" fill="#f7f7fa"/>
<rect x="861.6" y="966.99" width="32" height="32" fill="#4f5238" opacity="0.7"/>
<rect x="862.7" y="968.5" width="29" height="29" fill="#cdb936"/>
<circle cx="877.2" cy="983" r="8.5" fill="#7a6e2a"/>
<circle cx="877.6" cy="982.59" r="7.63" fill="#f7f7fa"/>
<rect x="916.12" y="966.99" width="32" height="32" fill="#4f5238" opacity="0.7"/>
<rect x="917.3" y="968.5" width="29" height="29" fill="#cdb936"/>
<circle cx="931.8" cy="983" r="8.5" fill="#7a6e2a"/>
<circle cx="932.12" cy="982.59" r="7.68" fill="#f7f7fa"/>
<rect x="970.64" y="966.99" width="32" height="32" fill="#4f5238" opacity="0.7"/>
<rect x="971.9" y="968.5" width="29" height="29" fill="#cdb936"/>
<circle cx="986.4" cy="983" r="8.5" fill="#7a6e2a"/>
<circle cx="986.64" cy="982.59" r="7.73" fill="#f7f7fa"/>
<rect x="1025.16" y="966.99" width="32" height="32" fill="#4f5238" opacity="0.7"/>
<rect x="1026.5" y="968.5" width="29" height="29" fill="#cdb936"/>
<circle cx="1041" cy="983" r="8.5" fill="#7a6e2a"/>
<circle cx="1041.16" cy="982.59" r="7.76" fill="#f7f7fa"/>
<rect x="1079.68" y="966.99" width="32" height="32" fill="#4f5238" opacity="0.7"/>
<rect x="1081.1" y="968.5" width="29" height="29" fill="#cdb936"/>
<circle cx="1095.6" cy="983" r="8.5" fill="#7a6e2a"/>
<circle cx="1095.68" cy="982.59" r="7.78" fill="#f7f7fa"/>
<rect x="1134.2" y="966.99" width="32" height="32" fill="#4f5238" opacity="0.7"/>
<rect x="1135.7" y="968.5" width="29" height="29" fill="#cdb936"/>
<circle cx="1150.2" cy="983" r="8.5" fill="#7a6e2a"/>
<circle cx="1150.2" cy="982.59" r="7.79" fill="#f7f7fa"/>
<rect x="1188.72" y="966.99" width="32" height="32" fill="#4f5238" opacity="0.7"/>
<rect x="1190.3" y="968.5" width="29" height="29" fill="#cdb936"/>
<circle cx="1204.8" cy="983" r="8.5" fill="#7a6e2a"/>
<circle cx="1204.72" cy="982.59" r="7.78" fill="#f7f7fa"/>
<rect x="1243.24" y="966.99" width="32" height="32" fill="#4f5238" opacity="0.7"/>
<rect x="1244.9" y="968.5" width="29" height="29" fill="#cdb936"/>
<circle cx="1259.4" cy="983" r="8.5" fill="#7a6e2a"/>
<circle cx="1259.24" cy="982.59" r="7.76" fill="#f7f7fa"/>
<circle cx="56.79" cy="206.12" r="18.8" fill="#4f5238" opacity="0.7"/>
<circle cx="55.2" cy="205" r="17.3" fill="#cdb936"/>
<circle cx="55.2" cy="205" r="8.45" fill="#7a6e2a"/>
<circle cx="56.79" cy="205.72" r="6.41" fill="#f7f7fa"/>
<circle cx="56.79" cy="314.46" r="18.8" fill="#4f5238" opacity="0.7"/>
<circle cx="55.2" cy="313.5" r="17.3" fill="#cdb936"/>
<circle cx="55.2" cy="313.5" r="8.45" fill="#7a6e2a"/>
<circle cx="56.79" cy="314.06" r="6.47" fill="#f7f7fa"/>
<circle cx="56.79" cy="1020.34" r="18.8" fill="#4f5238" opacity="0.7"/>
<circle cx="55.2" cy="1020.4" r="17.3" fill="#cdb936"/>
<circle cx="55.2" cy="1020.4" r="8.45" fill="#7a6e2a"/>
<circle cx="56.79" cy="1019.94" r="6.5" fill="#f7f7fa"/>
<circle cx="56.79" cy="1129.58" r="18.8" fill="#4f5238" opacity="0.7"/>
<circle cx="55.2" cy="1129.8" r="17.3" fill="#cdb936"/>
<circle cx="55.2" cy="1129.8" r="8.45" fill="#7a6e2a"/>
<circle cx="56.79" cy="1129.18" r="6.44" fill="#f7f7fa"/>
<circle cx="1450.16" cy="28.97" r="15" fill="#4f5238" opacity="0.7"/>
<circle cx="1450.6" cy="27.6" r="13.5" fill="#cdb936"/>
<circle cx="1450.6" cy="27.6" r="10.25" fill="#7a6e2a"/>
<circle cx="1450.16" cy="28.57" r="8.88" fill="#f7f7fa"/>
<rect x="1434.86" y="68" width="30.6" height="30.6" fill="#4f5238" opacity="0.7"/>
<rect x="1436.8" y="68.2" width="27.6" height="27.6" fill="#cdb936"/>
<circle cx="1450.6" cy="82" r="10.25" fill="#7a6e2a"/>
<circle cx="1450.16" cy="82.9" r="8.95" fill="#f7f7fa"/>
<circle cx="1504.39" cy="28.97" r="15" fill="#4f5238" opacity="0.7"/>
<circle cx="1504.9" cy="27.6" r="13.5" fill="#cdb936"/>
<circle cx="1504.9" cy="27.6" r="10.25" fill="#7a6e2a"/>
<circle cx="1504.39" cy="28.57" r="8.85" fill="#f7f7fa"/>
<rect x="1489.09" y="68" width="30.6" height="30.6" fill="#4f5238" opacity="0.7"/>
<rect x="1491.1" y="68.2" width="27.6" height="27.6" fill="#cdb936"/>
<circle cx="1504.9" cy="82" r="10.25" fill="#7a6e2a"/>
<circle cx="1504.39" cy="82.9" r="8.92" fill="#f7f7fa"/>
<circle cx="1558.61" cy="28.97" r="15" fill="#4f5238" opacity="0.7"/>
<circle cx="1559.2" cy="27.6" r="13.5" fill="#cdb936"/>
<circle cx="1559.2" cy="27.6" r="10.25" fill="#7a6e2a"/>
<circle cx="1558.61" cy="28.57" r="8.81" fill="#f7f7fa"/>
<rect x="1543.31" y="68" width="30.6" height="30.6" fill="#4f5238" opacity="0.7"/>
<rect x="1545.4" y="68.2" width="27.6" height="27.6" fill="#cdb936"/>
<circle cx="1559.2" cy="82" r="10.25" fill="#7a6e2a"/>
<circle cx="1558.61" cy="82.9" r="8.88" fill="#f7f7fa"/>
<circle cx="1615.32" cy="28.97" r="15" fill="#4f5238" opacity="0.7"/>
<circle cx="1616" cy="27.6" r="13.5" fill="#cdb936"/>
<circle cx="1616" cy="27.6" r="10.25" fill="#7a6e2a"/>
<circle cx="1615.32" cy="28.57" r="8.76" fill="#f7f7fa"/>
<rect x="1600.02" y="68" width="30.6" height="30.6" fill="#4f5238" opacity="0.7"/>
<rect x="1602.2" y="68.2" width="27.6" height="27.6" fill="#cdb936"/>
<circle cx="1616" cy="82" r="10.25" fill="#7a6e2a"/>
<circle cx="1615.32" cy="82.9" r="8.83" fill="#f7f7fa"/>
<circle cx="1668.45" cy="28.97" r="15" fill="#4f5238" opacity="0.7"/>
<circle cx="1669.2" cy="27.6" r="13.5" fill="#cdb936"/>
<circle cx="1669.2" cy="27.6" r="10.25" fill="#7a6e2a"/>
<circle cx="1668.45" cy="28.57" r="8.72" fill="#f7f7fa"/>
<rect x="1653.15" y="68" width="30.6" height="30.6" fill="#4f5238" opacity="0.7"/>
<rect x="1655.4" y="68.2" width="27.6" height="27.6" fill="#cdb936"/>
<circle cx="1669.2" cy="82" r="10.25" fill="#7a6e2a"/>
<circle cx="1668.45" cy="82.9" r="8.78" fill="#f7f7fa"/>
<circle cx="1723.17" cy="28.97" r="15" fill="#4f5238" opacity="0.7"/>
<circle cx="1724" cy="27.6" r="13.5" fill="#cdb936"/>
<circle cx="1724" cy="27.6" r="10.25" fill="#7a6e2a"/>
<circle cx="1723.17" cy="28.57" r="8.67" fill="#f7f7fa"/>
<rect x="1707.87" y="68" width="30.6" height="30.6" fill="#4f5238" opacity="0.7"/>
<rect x="1710.2" y="68.2" width="27.6" height="27.6" fill="#cdb936"/>
<circle cx="1724" cy="82" r="10.25" fill="#7a6e2a"/>
<circle cx="1723.17" cy="82.9" r="8.73" fill="#f7f7fa"/>
<circle cx="1776.49" cy="28.97" r="15" fill="#4f5238" opacity="0.7"/>
<circle cx="1777.4" cy="27.6" r="13.5" fill="#cdb936"/>
<circle cx="1777.4" cy="27.6" r="10.25" fill="#7a6e2a"/>
<circle cx="1776.49" cy="28.57" r="8.62" fill="#f7f7fa"/>
<rect x="1761.19" y="68" width="30.6" height="30.6" fill="#4f5238" opacity="0.7"/>
<rect x="1763.6" y="68.2" width="27.6" height="27.6" fill="#cdb936"/>
<circle cx="1777.4" cy="82" r="10.25" fill="#7a6e2a"/>
<circle cx="1776.49" cy="82.9" r="8.67" fill="#f7f7fa"/>
<circle cx="1449.57" cy="247.06" r="19" fill="#4f5238" opacity="0.7"/>
<circle cx="1450" cy="246" r="17.5" fill="#cdb936"/>
<circle cx="1450" cy="246" r="8.1" fill="#7a6e2a"/>
<circle cx="1449.57" cy="246.66" r="7.01" fill="#f7f7fa"/>
<circle cx="1449.57" cy="573.58" r="19" fill="#4f5238" opacity="0.7"/>
<circle cx="1450" cy="573" r="17.5" fill="#cdb936"/>
<circle cx="1450" cy="573" r="8.1" fill="#7a6e2a"/>
<circle cx="1449.57" cy="573.18" r="7.33" fill="#f7f7fa"/>
<circle cx="1503.99" cy="247.06" r="19" fill="#4f5238" opacity="0.7"/>
<circle cx="1504.5" cy="246" r="17.5" fill="#cdb936"/>
<circle cx="1504.5" cy="246" r="8.1" fill="#7a6e2a"/>
<circle cx="1503.99" cy="246.66" r="6.96" fill="#f7f7fa"/>
<circle cx="1503.99" cy="573.58" r="19" fill="#4f5238" opacity="0.7"/>
<circle cx="1504.5" cy="573" r="17.5" fill="#cdb936"/>
<circle cx="1504.5" cy="573" r="8.1" fill="#7a6e2a"/>
<circle cx="1503.99" cy="573.18" r="7.25" fill="#f7f7fa"/>
<circle cx="1558.41" cy="247.06" r="19" fill="#4f5238" opacity="0.7"/>
<circle cx="1559" cy="246" r="17.5" fill="#cdb936"/>
<circle cx="1559" cy="246" r="8.1" fill="#7a6e2a"/>
<circle cx="1558.41" cy="246.66" r="6.91" fill="#f7f7fa"/>
<circle cx="1558.41" cy="573.58" r="19" fill="#4f5238" opacity="0.7"/>
<circle cx="1559" cy="573" r="17.5" fill="#cdb936"/>
<circle cx="1559" cy="573" r="8.1" fill="#7a6e2a"/>
<circle cx="1558.41" cy="573.18" r="7.18" fill="#f7f7fa"/>
<circle cx="1612.83" cy="247.06" r="19" fill="#4f5238" opacity="0.7"/>
<circle cx="1613.5" cy="246" r="17.5" fill="#cdb936"/>
<circle cx="1613.5" cy="246" r="8.1" fill="#7a6e2a"/>
<circle cx="1612.83" cy="246.66" r="6.86" fill="#f7f7fa"/>
<circle cx="1612.83" cy="573.58" r="19" fill="#4f5238" opacity="0.7"/>
<circle cx="1613.5" cy="573" r="17.5" fill="#cdb936"/>
<circle cx="1613.5" cy="573" r="8.1" fill="#7a6e2a"/>
<circle cx="1612.83" cy="573.18" r="7.1" fill="#f7f7fa"/>
<circle cx="1667.25" cy="247.06" r="19" fill="#4f5238" opacity="0.7"/>
<circle cx="1668" cy="246" r="17.5" fill="#cdb936"/>
<circle cx="1668" cy="246" r="8.1" fill="#7a6e2a"/>
<circle cx="1667.25" cy="246.66" r="6.8" fill="#f7f7fa"/>
<circle cx="1667.25" cy="573.58" r="19" fill="#4f5238" opacity="0.7"/>
<circle cx="1668" cy="573" r="17.5" fill="#cdb936"/>
<circle cx="1668" cy="573" r="8.1" fill="#7a6e2a"/>
<circle cx="1667.25" cy="573.18" r="7.03" fill="#f7f7fa"/>
<circle cx="1721.67" cy="247.06" r="19" fill="#4f5238" opacity="0.7"/>
<circle cx="1722.5" cy="246" r="17.5" fill="#cdb936"/>
<circle cx="1722.5" cy="246" r="8.1" fill="#7a6e2a"/>
<circle cx="1721.67" cy="246.66" r="6.74" fill="#f7f7fa"/>
<circle cx="1721.67" cy="573.58" r="19" fill="#4f5238" opacity="0.7"/>
<circle cx="1722.5" cy="573" r="17.5" fill="#cdb936"/>
<circle cx="1722.5" cy="573" r="8.1" fill="#7a6e2a"/>
<circle cx="1721.67" cy="573.18" r="6.95" fill="#f7f7fa"/>
<circle cx="1776.09" cy="247.06" r="19" fill="#4f5238" opacity="0.7"/>
<circle cx="1777" cy="246" r="17.5" fill="#cdb936"/>
<circle cx="1777" cy="246" r="8.1" fill="#7a6e2a"/>
<circle cx="1776.09" cy="246.66" r="6.68" fill="#f7f7fa"/>
<circle cx="1776.09" cy="573.58" r="19" fill="#4f5238" opacity="0.7"/>
<circle cx="1777" cy="573" r="17.5" fill="#cdb936"/>
<circle cx="1777" cy="573" r="8.1" fill="#7a6e2a"/>
<circle cx="1776.09" cy="573.18" r="6.87" fill="#f7f7fa"/>
<circle cx="1449.57" cy="736.85" r="15.5" fill="#4f5238" opacity="0.7"/>
<circle cx="1450" cy="736.5" r="14" fill="#cdb936"/>
<circle cx="1450" cy="736.5" r="9" fill="#7a6e2a"/>
<circle cx="1449.57" cy="736.45" r="8.26" fill="#f7f7fa"/>
<rect x="1434.07" y="776.07" width="31" height="31" fill="#4f5238" opacity="0.7"/>
<rect x="1436" y="777.3" width="28" height="28" fill="#cdb936"/>
<circle cx="1450" cy="791.3" r="9" fill="#7a6e2a"/>
<circle cx="1449.57" cy="791.17" r="8.25" fill="#f7f7fa"/>
<circle cx="1504.49" cy="736.85" r="15.5" fill="#4f5238" opacity="0.7"/>
<circle cx="1505" cy="736.5" r="14" fill="#cdb936"/>
<circle cx="1505" cy="736.5" r="9" fill="#7a6e2a"/>
<circle cx="1504.49" cy="736.45" r="8.18" fill="#f7f7fa"/>
<rect x="1488.99" y="776.07" width="31" height="31" fill="#4f5238" opacity="0.7"/>
<rect x="1491" y="777.3" width="28" height="28" fill="#cdb936"/>
<circle cx="1505" cy="791.3" r="9" fill="#7a6e2a"/>
<circle cx="1504.49" cy="791.17" r="8.17" fill="#f7f7fa"/>
<circle cx="1558.91" cy="736.85" r="15.5" fill="#4f5238" opacity="0.7"/>
<circle cx="1559.5" cy="736.5" r="14" fill="#cdb936"/>
<circle cx="1559.5" cy="736.5" r="9" fill="#7a6e2a"/>
<circle cx="1558.91" cy="736.45" r="8.1" fill="#f7f7fa"/>
<rect x="1543.41" y="776.07" width="31" height="31" fill="#4f5238" opacity="0.7"/>
<rect x="1545.5" y="777.3" width="28" height="28" fill="#cdb936"/>
<circle cx="1559.5" cy="791.3" r="9" fill="#7a6e2a"/>
<circle cx="1558.91" cy="791.17" r="8.09" fill="#f7f7fa"/>
<circle cx="1613.33" cy="736.85" r="15.5" fill="#4f5238" opacity="0.7"/>
<circle cx="1614" cy="736.5" r="14" fill="#cdb936"/>
<circle cx="1614" cy="736.5" r="9" fill="#7a6e2a"/>
<circle cx="1613.33" cy="736.45" r="8.03" fill="#f7f7fa"/>
<rect x="1597.83" y="776.07" width="31" height="31" fill="#4f5238" opacity="0.7"/>
<rect x="1600" y="777.3" width="28" height="28" fill="#cdb936"/>
<circle cx="1614" cy="791.3" r="9" fill="#7a6e2a"/>
<circle cx="1613.33" cy="791.17" r="8.01" fill="#f7f7fa"/>
<circle cx="1722.67" cy="736.85" r="15.5" fill="#4f5238" opacity="0.7"/>
<circle cx="1723.5" cy="736.5" r="14" fill="#cdb936"/>
<circle cx="1723.5" cy="736.5" r="9" fill="#7a6e2a"/>
<circle cx="1722.67" cy="736.45" r="7.87" fill="#f7f7fa"/>
<rect x="1707.17" y="776.07" width="31" height="31" fill="#4f5238" opacity="0.7"/>
<rect x="1709.5" y="777.3" width="28" height="28" fill="#cdb936"/>
<circle cx="1723.5" cy="791.3" r="9" fill="#7a6e2a"/>
<circle cx="1722.67" cy="791.17" r="7.86" fill="#f7f7fa"/>
<circle cx="1829.01" cy="992.98" r="21.5" fill="#4f5238" opacity="0.7"/>
<circle cx="1830" cy="993" r="20" fill="#cdb936"/>
<circle cx="1830" cy="993" r="13" fill="#7a6e2a"/>
<circle cx="1829.01" cy="992.58" r="11.63" fill="#f7f7fa"/>
<circle cx="1829.01" cy="1047.7" r="21.5" fill="#4f5238" opacity="0.7"/>
<circle cx="1830" cy="1047.8" r="20" fill="#cdb936"/>
<circle cx="1830" cy="1047.8" r="13" fill="#7a6e2a"/>
<circle cx="1829.01" cy="1047.3" r="11.59" fill="#f7f7fa"/>
<circle cx="1829.01" cy="1100.82" r="21.5" fill="#4f5238" opacity="0.7"/>
<circle cx="1830" cy="1101" r="20" fill="#cdb936"/>
<circle cx="1830" cy="1101" r="13" fill="#7a6e2a"/>
<circle cx="1829.01" cy="1100.42" r="11.56" fill="#f7f7fa"/>
<circle cx="1913.29" cy="988.88" r="19.1" fill="#4f5238" opacity="0.7"/>
<circle cx="1914.4" cy="988.9" r="17.6" fill="#cdb936"/>
<circle cx="1914.4" cy="988.9" r="7.5" fill="#7a6e2a"/>
<circle cx="1913.29" cy="988.48" r="6.02" fill="#f7f7fa"/>
<circle cx="1913.29" cy="1096.62" r="19.1" fill="#4f5238" opacity="0.7"/>
<circle cx="1914.4" cy="1096.8" r="17.6" fill="#cdb936"/>
<circle cx="1914.4" cy="1096.8" r="7.5" fill="#7a6e2a"/>
<circle cx="1913.29" cy="1096.22" r="5.95" fill="#f7f7fa"/>
<circle cx="1989.08" cy="990.98" r="19.1" fill="#4f5238" opacity="0.7"/>
<circle cx="1990.3" cy="991" r="17.6" fill="#cdb936"/>
<circle cx="1990.3" cy="991" r="7.5" fill="#7a6e2a"/>
<circle cx="1989.08" cy="990.58" r="5.91" fill="#f7f7fa"/>
<circle cx="1989.08" cy="1099.52" r="19.1" fill="#4f5238" opacity="0.7"/>
<circle cx="1990.3" cy="1099.7" r="17.6" fill="#cdb936"/>
<circle cx="1990.3" cy="1099.7" r="7.5" fill="#7a6e2a"/>
<circle cx="1989.08" cy="1099.12" r="5.85" fill="#f7f7fa"/>
<circle cx="1613.83" cy="1295.54" r="19.2" fill="#4f5238" opacity="0.7"/>
<circle cx="1614.5" cy="1296" r="17.7" fill="#cdb936"/>
<circle cx="1614.5" cy="1296" r="8.5" fill="#7a6e2a"/>
<circle cx="1613.83" cy="1295.14" r="7.1" fill="#e6e6e8"/>
<circle cx="1831.61" cy="1295.54" r="19.1" fill="#4f5238" opacity="0.7"/>
<circle cx="1832.6" cy="1296" r="17.6" fill="#cdb936"/>
<circle cx="1832.6" cy="1296" r="8.5" fill="#7a6e2a"/>
<circle cx="1831.61" cy="1295.14" r="6.89" fill="#e6e6e8"/>
<circle cx="1398.04" cy="1291.44" r="34" fill="#4f5238" opacity="0.7"/>
<circle cx="1398.4" cy="1291.9" r="32.5" fill="#cdb936"/>
<circle cx="1398.4" cy="1291.9" r="15.7" fill="#7a6e2a"/>
<circle cx="1398.04" cy="1291.04" r="14.47" fill="#e6e6e8"/>
<circle cx="1504.98" cy="1291.44" r="34" fill="#4f5238" opacity="0.7"/>
<circle cx="1505.5" cy="1291.9" r="32.5" fill="#cdb936"/>
<circle cx="1505.5" cy="1291.9" r="15.7" fill="#7a6e2a"/>
<circle cx="1504.98" cy="1291.04" r="14.4" fill="#e6e6e8"/>
<circle cx="89.13" cy="85.63" r="57" fill="#4f5238" opacity="0.7"/>
<circle cx="87" cy="84" r="55.5" fill="#cdb936"/>
<circle cx="87" cy="84" r="36" fill="#7a6e2a"/>
<circle cx="89.13" cy="85.23" r="33.24" fill="#f7f7fa"/>
<circle cx="1941.01" cy="83.64" r="57" fill="#4f5238" opacity="0.7"/>
<circle cx="1942.6" cy="82" r="55.5" fill="#cdb936"/>
<circle cx="1942.6" cy="82" r="36" fill="#7a6e2a"/>
<circle cx="1941.01" cy="83.24" r="33.69" fill="#f7f7fa"/>
<circle cx="87.33" cy="1283.23" r="57.5" fill="#4f5238" opacity="0.7"/>
<circle cx="85.2" cy="1284" r="56" fill="#cdb936"/>
<circle cx="85.2" cy="1284" r="36" fill="#7a6e2a"/>
<circle cx="87.33" cy="1282.83" r="33.27" fill="#e6e6e8"/>
<circle cx="1939.42" cy="1283.23" r="57.5" fill="#4f5238" opacity="0.7"/>
<circle cx="1941" cy="1284" r="56" fill="#cdb936"/>
<circle cx="1941" cy="1284" r="36" fill="#7a6e2a"/>
<circle cx="1939.42" cy="1282.83" r="33.73" fill="#e6e6e8"/>
<circle cx="1449.3" cy="1049.8" r="45" fill="#4f5238" opacity="0.7"/>
<circle cx="1448.3" cy="1048.8" r="44.3" fill="#cdb936"/>
<circle cx="1449" cy="1049.6" r="40.6" fill="#050505"/>
<circle cx="1447.4" cy="1048.1" r="40" fill="#e6e6e8"/>
<rect x="27.7" y="177" width="54.1" height="164" rx="27.05" ry="27.05" fill="none" stroke="#ffffff" stroke-width="6"/>
<rect x="27.2" y="994.5" width="54" height="164" rx="27" ry="27" fill="none" stroke="#ffffff" stroke-width="6"/>
<rect x="1889.7" y="962.7" width="53.1" height="162.6" rx="26.55" ry="26.55" fill="none" stroke="#ffffff" stroke-width="6"/>
<rect x="1965.7" y="964.7" width="53.6" height="162.6" rx="26.8" ry="26.8" fill="none" stroke="#ffffff" stroke-width="6"/>
<rect x="1396.5" y="218.2" width="437.7" height="382.8" fill="none" stroke="#ffffff" stroke-width="6" stroke-linejoin="round"/>
<path d="M1834.2 327.4 H1888.9 V491.6 H1834.2" fill="none" stroke="#fff" stroke-width="6" stroke-linejoin="round"/>
<rect x="1394" y="939" width="327" height="219" fill="none" stroke="#ffffff" stroke-width="6" stroke-linejoin="round"/>
<rect x="1333" y="1202.5" width="240" height="165.5" fill="none" stroke="#ffffff" stroke-width="6" stroke-linejoin="round"/>
<line x1="1333" y1="1221" x2="1573" y2="1221" stroke="#ffffff" stroke-width="6" stroke-linecap="round"/>
<rect x="1659" y="1276" width="133" height="42.8" fill="none" stroke="#ffffff" stroke-width="6" stroke-linejoin="round"/>
<line x1="1767.5" y1="1276" x2="1767.5" y2="1318.8" stroke="#ffffff" stroke-width="6" stroke-linecap="round"/>
<line x1="1640.5" y1="1296" x2="1659" y2="1296" stroke="#ffffff" stroke-width="6" stroke-linecap="round"/>
<line x1="1792" y1="1296" x2="1808.5" y2="1296" stroke="#ffffff" stroke-width="6" stroke-linecap="round"/>
<path d="M302.9 81.7 L302.9 59.5 L314 48.4 L325.1 59.5 L325.1 81.7 M302.9 65.97 L325.1 65.97" fill="none" stroke="#fff" stroke-width="5.2" stroke-linecap="round" stroke-linejoin="round"/>
<path d="M336.45 81.7 L336.45 60.42 M336.45 70.6 L346.62 60.42 L352.18 60.42" fill="none" stroke="#fff" stroke-width="5.2" stroke-linecap="round" stroke-linejoin="round"/>
<path d="M373.92 52.84 L373.92 76.52 L379.47 81.7 M368 60.24 L380.95 60.24" fill="none" stroke="#fff" stroke-width="5.2" stroke-linecap="round" stroke-linejoin="round"/>
<path d="M396.1 81.7 L396.1 48.4 L418.3 48.4 M396.1 65.05 L409.05 65.05" fill="none" stroke="#fff" stroke-width="5.2" stroke-linecap="round" stroke-linejoin="round"/>
<path d="M428.9 59.5 L428.9 75.23 L434.45 81.7 L451.1 81.7 L451.1 59.5" fill="none" stroke="#fff" stroke-width="5.2" stroke-linecap="round" stroke-linejoin="round"/>
<path d="M461.9 81.7 L461.9 59.5 L478.55 59.5 L484.1 65.05 L484.1 81.7" fill="none" stroke="#fff" stroke-width="5.2" stroke-linecap="round" stroke-linejoin="round"/>
<path d="M532.35 81.7 L549 81.7 L549 53.95 L543.45 48.4 L532.35 48.4 L526.8 53.95 L526.8 76.15 L532.35 81.7 M536.97 69.67 L549 81.7" fill="none" stroke="#fff" stroke-width="5.2" stroke-linecap="round" stroke-linejoin="round"/>
<path d="M560.5 48.4 L582.7 48.4 M571.6 48.4 L571.6 81.7" fill="none" stroke="#fff" stroke-width="5.2" stroke-linecap="round" stroke-linejoin="round"/>
<path d="M592.7 81.7 L592.7 48.4 L609.35 48.4 L614.9 53.95 L614.9 61.35 L609.35 66.9 L592.7 66.9" fill="none" stroke="#fff" stroke-width="5.2" stroke-linecap="round" stroke-linejoin="round"/>
<path d="M625.3 48.4 L625.3 53.95 L636.4 63.2 L647.5 53.95 L647.5 48.4 M636.4 63.2 L636.4 81.7" fill="none" stroke="#fff" stroke-width="5.2" stroke-linecap="round" stroke-linejoin="round"/>
<path d="M131.65 152.95 L135.32 149.28 L142.67 149.28 L146.34 152.95 L146.34 156.63 L142.67 160.3 L146.34 163.98 L146.34 167.65 L142.67 171.33 L135.32 171.33 L131.65 167.65 M137.77 160.3 L142.67 160.3 M153.45 149.28 L153.45 163.98 L160.8 171.33 L168.15 163.98 L168.15 149.28 M175.26 152.95 L178.93 149.28 L186.28 149.28 L189.96 152.95 L189.96 156.63 L186.28 160.3 L189.96 163.98 L189.96 167.65 L186.28 171.33 L178.93 171.33 L175.26 167.65 M181.38 160.3 L186.28 160.3" fill="none" stroke="#ffffff" stroke-width="3.5" stroke-linecap="round" stroke-linejoin="round"/>
<path d="M146.04 208.15 L142.37 204.47 L135.02 204.47 L131.34 208.15 L131.34 222.85 L135.02 226.53 L142.37 226.53 L146.04 222.85 L146.04 216.72 L138.69 216.72 M153.15 226.53 L153.15 204.47 L167.85 226.53 L167.85 204.47 M174.96 226.53 L174.96 204.47 L184.75 204.47 L189.66 209.38 L189.66 221.62 L184.75 226.53 L174.96 226.53" fill="none" stroke="#ffffff" stroke-width="3.5" stroke-linecap="round" stroke-linejoin="round"/>
<path d="M148.54 1142.45 L144.87 1138.78 L137.52 1138.78 L133.84 1142.45 L133.84 1157.15 L137.52 1160.83 L144.87 1160.83 L148.54 1157.15 L148.54 1151.03 L141.19 1151.03 M155.65 1160.83 L155.65 1138.78 L170.35 1160.83 L170.35 1138.78 M177.46 1160.83 L177.46 1138.78 L187.25 1138.78 L192.16 1143.67 L192.16 1155.92 L187.25 1160.83 L177.46 1160.83" fill="none" stroke="#ffffff" stroke-width="3.5" stroke-linecap="round" stroke-linejoin="round"/>
<path d="M134.34 1197.65 L138.02 1193.98 L145.37 1193.98 L149.04 1197.65 L149.04 1201.33 L145.37 1205 L149.04 1208.68 L149.04 1212.35 L145.37 1216.03 L138.02 1216.03 L134.34 1212.35 M140.47 1205 L145.37 1205 M156.15 1193.98 L156.15 1208.68 L163.5 1216.03 L170.85 1208.68 L170.85 1193.98 M177.96 1197.65 L181.63 1193.98 L188.98 1193.98 L192.66 1197.65 L192.66 1201.33 L188.98 1205 L192.66 1208.68 L192.66 1212.35 L188.98 1216.03 L181.63 1216.03 L177.96 1212.35 M184.08 1205 L188.98 1205" fill="none" stroke="#ffffff" stroke-width="3.5" stroke-linecap="round" stroke-linejoin="round"/>
<path d="M168.45 674.38 L153.75 674.38 L153.75 684.17 L164.77 684.17 L168.45 687.85 L168.45 692.75 L164.77 696.42 L157.42 696.42 L153.75 692.75 M175.55 674.38 L175.55 689.07 L182.9 696.42 L190.25 689.07 L190.25 674.38" fill="none" stroke="#ffffff" stroke-width="3.5" stroke-linecap="round" stroke-linejoin="round"/>
<path d="M166.55 370.77 L176.35 370.77 M173.9 370.77 L173.9 389.15 L170.22 392.82 L165.33 392.82 L161.65 389.15" fill="none" stroke="#ffffff" stroke-width="3.5" stroke-linecap="round" stroke-linejoin="round"/>
<path d="M161.93 446.82 L169.28 446.82 M165.6 446.82 L165.6 424.77 M161.93 424.77 L169.28 424.77" fill="none" stroke="#ffffff" stroke-width="3.5" stroke-linecap="round" stroke-linejoin="round"/>
<path d="M161.65 501.32 L161.65 479.27 M176.35 501.32 L176.35 479.27 M161.65 490.3 L176.35 490.3" fill="none" stroke="#ffffff" stroke-width="3.5" stroke-linecap="round" stroke-linejoin="round"/>
<path d="M176.35 538.45 L172.68 534.77 L165.33 534.77 L161.65 538.45 L161.65 553.15 L165.33 556.82 L172.68 556.82 L176.35 553.15 L176.35 547.02 L169 547.02" fill="none" stroke="#ffffff" stroke-width="3.5" stroke-linecap="round" stroke-linejoin="round"/>
<path d="M161.65 611.02 L161.65 588.98 L176.35 588.98 M161.65 600 L170.22 600" fill="none" stroke="#ffffff" stroke-width="3.5" stroke-linecap="round" stroke-linejoin="round"/>
<path d="M181.85 775.52 L167.15 775.52 L167.15 753.48 L181.85 753.48 M167.15 764.5 L178.18 764.5" fill="none" stroke="#ffffff" stroke-width="3.5" stroke-linecap="round" stroke-linejoin="round"/>
<path d="M167.15 830.02 L167.15 807.98 L176.95 807.98 L181.85 812.88 L181.85 825.12 L176.95 830.02 L167.15 830.02" fill="none" stroke="#ffffff" stroke-width="3.5" stroke-linecap="round" stroke-linejoin="round"/>
<path d="M181.85 881.35 L178.18 885.02 L170.83 885.02 L167.15 881.35 L167.15 866.65 L170.83 862.98 L178.18 862.98 L181.85 866.65" fill="none" stroke="#ffffff" stroke-width="3.5" stroke-linecap="round" stroke-linejoin="round"/>
<path d="M167.15 939.62 L167.15 917.58 L178.18 917.58 L181.85 921.25 L181.85 924.92 L178.18 928.6 L167.15 928.6 M178.18 928.6 L181.85 932.27 L181.85 935.95 L178.18 939.62 L167.15 939.62" fill="none" stroke="#ffffff" stroke-width="3.5" stroke-linecap="round" stroke-linejoin="round"/>
<path d="M167.15 994.23 L167.15 979.52 L174.5 972.18 L181.85 979.52 L181.85 994.23 M167.15 983.81 L181.85 983.81" fill="none" stroke="#ffffff" stroke-width="3.5" stroke-linecap="round" stroke-linejoin="round"/>
<path d="M223.71 320.46 L228 316.17 L228 338.22 M223.71 338.22 L232.29 338.22" fill="none" stroke="#ffffff" stroke-width="3.5" stroke-linecap="round" stroke-linejoin="round"/>
<path d="M273.65 319.85 L277.32 316.17 L284.67 316.17 L288.35 319.85 L288.35 324.75 L273.65 338.22 L288.35 338.22" fill="none" stroke="#ffffff" stroke-width="3.5" stroke-linecap="round" stroke-linejoin="round"/>
<path d="M325.65 319.85 L329.32 316.17 L336.67 316.17 L340.35 319.85 L340.35 323.52 L336.67 327.2 L340.35 330.87 L340.35 334.55 L336.67 338.22 L329.32 338.22 L325.65 334.55 M331.77 327.2 L336.67 327.2" fill="none" stroke="#ffffff" stroke-width="3.5" stroke-linecap="round" stroke-linejoin="round"/>
<path d="M388.67 338.22 L388.67 316.17 L377.65 327.2 L392.35 327.2" fill="none" stroke="#ffffff" stroke-width="3.5" stroke-linecap="round" stroke-linejoin="round"/>
<path d="M451.85 316.17 L437.15 316.17 L437.15 325.97 L448.17 325.97 L451.85 329.65 L451.85 334.55 L448.17 338.22 L440.82 338.22 L437.15 334.55" fill="none" stroke="#ffffff" stroke-width="3.5" stroke-linecap="round" stroke-linejoin="round"/>
<path d="M503.74 316.17 L493.32 326.59 L489.65 330.26 L489.65 334.55 L493.32 338.22 L500.67 338.22 L504.35 334.55 L504.35 330.26 L500.67 326.59 L493.32 326.59" fill="none" stroke="#ffffff" stroke-width="3.5" stroke-linecap="round" stroke-linejoin="round"/>
<path d="M546.65 316.17 L561.35 316.17 L561.35 318.62 L547.88 333.32 L547.88 338.22" fill="none" stroke="#ffffff" stroke-width="3.5" stroke-linecap="round" stroke-linejoin="round"/>
<path d="M602.32 326.59 L599.88 324.14 L599.88 319.24 L602.94 316.17 L609.06 316.17 L612.12 319.24 L612.12 324.14 L609.67 326.59 L602.32 326.59 L598.65 330.26 L598.65 334.55 L602.32 338.22 L609.67 338.22 L613.35 334.55 L613.35 330.26 L609.67 326.59" fill="none" stroke="#ffffff" stroke-width="3.5" stroke-linecap="round" stroke-linejoin="round"/>
<path d="M652.65 334.55 L656.32 338.22 L663.67 338.22 L667.35 334.55 L667.35 319.85 L663.67 316.17 L656.32 316.17 L652.65 319.85 L652.65 323.52 L656.32 327.2 L667.35 327.2" fill="none" stroke="#ffffff" stroke-width="3.5" stroke-linecap="round" stroke-linejoin="round"/>
<path d="M708.86 337.95 L704.58 333.66 L726.62 333.66 M726.62 337.95 L726.62 329.38 M726.62 315.65 L726.62 308.31 L722.95 304.63 L708.25 304.63 L704.58 308.31 L704.58 315.65 L708.25 319.33 L722.95 319.33 L726.62 315.65" fill="none" stroke="#ffffff" stroke-width="3.5" stroke-linecap="round" stroke-linejoin="round"/>
<path d="M763.26 337.95 L758.98 333.66 L781.02 333.66 M781.02 337.95 L781.02 329.38 M763.26 319.33 L758.98 315.04 L781.02 315.04 M781.02 319.33 L781.02 310.75" fill="none" stroke="#ffffff" stroke-width="3.5" stroke-linecap="round" stroke-linejoin="round"/>
<path d="M821.26 337.95 L816.98 333.66 L839.02 333.66 M839.02 337.95 L839.02 329.38 M820.65 319.33 L816.98 315.65 L816.98 308.31 L820.65 304.63 L825.55 304.63 L839.02 319.33 L839.02 304.63" fill="none" stroke="#ffffff" stroke-width="3.5" stroke-linecap="round" stroke-linejoin="round"/>
<path d="M875.76 337.95 L871.48 333.66 L893.52 333.66 M893.52 337.95 L893.52 329.38 M875.15 319.33 L871.48 315.65 L871.48 308.31 L875.15 304.63 L878.82 304.63 L882.5 308.31 L886.17 304.63 L889.85 304.63 L893.52 308.31 L893.52 315.65 L889.85 319.33 M882.5 313.2 L882.5 308.31" fill="none" stroke="#ffffff" stroke-width="3.5" stroke-linecap="round" stroke-linejoin="round"/>
<path d="M927.86 337.95 L923.58 333.66 L945.62 333.66 M945.62 337.95 L945.62 329.38 M945.62 308.31 L923.58 308.31 L934.6 319.33 L934.6 304.63" fill="none" stroke="#ffffff" stroke-width="3.5" stroke-linecap="round" stroke-linejoin="round"/>
<path d="M982.26 337.95 L977.98 333.66 L1000.02 333.66 M1000.02 337.95 L1000.02 329.38 M977.98 304.63 L977.98 319.33 L987.77 319.33 L987.77 308.31 L991.45 304.63 L996.35 304.63 L1000.02 308.31 L1000.02 315.65 L996.35 319.33" fill="none" stroke="#ffffff" stroke-width="3.5" stroke-linecap="round" stroke-linejoin="round"/>
<path d="M1045.26 337.95 L1040.98 333.66 L1063.03 333.66 M1063.03 337.95 L1063.03 329.38 M1040.98 305.24 L1051.39 315.65 L1055.06 319.33 L1059.35 319.33 L1063.03 315.65 L1063.03 308.31 L1059.35 304.63 L1055.06 304.63 L1051.39 308.31 L1051.39 315.65" fill="none" stroke="#ffffff" stroke-width="3.5" stroke-linecap="round" stroke-linejoin="round"/>
<path d="M1094.76 337.95 L1090.48 333.66 L1112.53 333.66 M1112.53 337.95 L1112.53 329.38 M1090.48 319.33 L1090.48 304.63 L1092.93 304.63 L1107.62 318.11 L1112.53 318.11" fill="none" stroke="#ffffff" stroke-width="3.5" stroke-linecap="round" stroke-linejoin="round"/>
<path d="M1151.26 337.95 L1146.98 333.66 L1169.03 333.66 M1169.03 337.95 L1169.03 329.38 M1157.39 315.65 L1154.94 318.11 L1150.04 318.11 L1146.98 315.04 L1146.98 308.92 L1150.04 305.86 L1154.94 305.86 L1157.39 308.31 L1157.39 315.65 L1161.06 319.33 L1165.35 319.33 L1169.03 315.65 L1169.03 308.31 L1165.35 304.63 L1161.06 304.63 L1157.39 308.31" fill="none" stroke="#ffffff" stroke-width="3.5" stroke-linecap="round" stroke-linejoin="round"/>
<path d="M1206.26 337.95 L1201.98 333.66 L1224.03 333.66 M1224.03 337.95 L1224.03 329.38 M1220.35 319.33 L1224.03 315.65 L1224.03 308.31 L1220.35 304.63 L1205.65 304.63 L1201.98 308.31 L1201.98 315.65 L1205.65 319.33 L1209.33 319.33 L1213 315.65 L1213 304.63" fill="none" stroke="#ffffff" stroke-width="3.5" stroke-linecap="round" stroke-linejoin="round"/>
<path d="M1258.65 337.95 L1254.98 334.27 L1254.98 326.93 L1258.65 323.25 L1263.55 323.25 L1277.03 337.95 L1277.03 323.25 M1277.03 312.47 L1277.03 305.12 L1273.35 301.44 L1258.65 301.44 L1254.98 305.12 L1254.98 312.47 L1258.65 316.14 L1273.35 316.14 L1277.03 312.47" fill="none" stroke="#ffffff" stroke-width="3.5" stroke-linecap="round" stroke-linejoin="round"/>
<path d="M1306.65 337.95 L1302.98 334.27 L1302.98 326.93 L1306.65 323.25 L1311.55 323.25 L1325.03 337.95 L1325.03 323.25 M1307.26 316.14 L1302.98 311.86 L1325.03 311.86 M1325.03 316.14 L1325.03 307.57" fill="none" stroke="#ffffff" stroke-width="3.5" stroke-linecap="round" stroke-linejoin="round"/>
<path d="M217.71 1036.26 L222 1031.98 L222 1054.03 M217.71 1054.03 L226.29 1054.03" fill="none" stroke="#ffffff" stroke-width="3.5" stroke-linecap="round" stroke-linejoin="round"/>
<path d="M268.05 1035.65 L271.72 1031.98 L279.07 1031.98 L282.75 1035.65 L282.75 1040.55 L268.05 1054.03 L282.75 1054.03" fill="none" stroke="#ffffff" stroke-width="3.5" stroke-linecap="round" stroke-linejoin="round"/>
<path d="M320.35 1035.65 L324.02 1031.98 L331.37 1031.98 L335.05 1035.65 L335.05 1039.33 L331.37 1043 L335.05 1046.68 L335.05 1050.35 L331.37 1054.03 L324.02 1054.03 L320.35 1050.35 M326.47 1043 L331.37 1043" fill="none" stroke="#ffffff" stroke-width="3.5" stroke-linecap="round" stroke-linejoin="round"/>
<path d="M383.17 1054.03 L383.17 1031.98 L372.15 1043 L386.85 1043" fill="none" stroke="#ffffff" stroke-width="3.5" stroke-linecap="round" stroke-linejoin="round"/>
<path d="M447.15 1031.98 L432.45 1031.98 L432.45 1041.78 L443.47 1041.78 L447.15 1045.45 L447.15 1050.35 L443.47 1054.03 L436.12 1054.03 L432.45 1050.35" fill="none" stroke="#ffffff" stroke-width="3.5" stroke-linecap="round" stroke-linejoin="round"/>
<path d="M498.04 1031.98 L487.62 1042.39 L483.95 1046.06 L483.95 1050.35 L487.62 1054.03 L494.97 1054.03 L498.65 1050.35 L498.65 1046.06 L494.97 1042.39 L487.62 1042.39" fill="none" stroke="#ffffff" stroke-width="3.5" stroke-linecap="round" stroke-linejoin="round"/>
<path d="M541.15 1031.98 L555.85 1031.98 L555.85 1034.43 L542.38 1049.12 L542.38 1054.03" fill="none" stroke="#ffffff" stroke-width="3.5" stroke-linecap="round" stroke-linejoin="round"/>
<path d="M597.32 1042.39 L594.88 1039.94 L594.88 1035.04 L597.94 1031.98 L604.06 1031.98 L607.12 1035.04 L607.12 1039.94 L604.67 1042.39 L597.32 1042.39 L593.65 1046.06 L593.65 1050.35 L597.32 1054.03 L604.67 1054.03 L608.35 1050.35 L608.35 1046.06 L604.67 1042.39" fill="none" stroke="#ffffff" stroke-width="3.5" stroke-linecap="round" stroke-linejoin="round"/>
<path d="M647.65 1050.35 L651.32 1054.03 L658.67 1054.03 L662.35 1050.35 L662.35 1035.65 L658.67 1031.98 L651.32 1031.98 L647.65 1035.65 L647.65 1039.33 L651.32 1043 L662.35 1043" fill="none" stroke="#ffffff" stroke-width="3.5" stroke-linecap="round" stroke-linejoin="round"/>
<path d="M703.26 1057.45 L698.98 1053.16 L721.02 1053.16 M721.02 1057.45 L721.02 1048.88 M721.02 1035.15 L721.02 1027.81 L717.35 1024.13 L702.65 1024.13 L698.98 1027.81 L698.98 1035.15 L702.65 1038.83 L717.35 1038.83 L721.02 1035.15" fill="none" stroke="#ffffff" stroke-width="3.5" stroke-linecap="round" stroke-linejoin="round"/>
<path d="M757.76 1052.2 L753.48 1047.91 L775.52 1047.91 M775.52 1052.2 L775.52 1043.62 M757.76 1033.58 L753.48 1029.29 L775.52 1029.29 M775.52 1033.58 L775.52 1025" fill="none" stroke="#ffffff" stroke-width="3.5" stroke-linecap="round" stroke-linejoin="round"/>
<path d="M813.26 1057.45 L808.98 1053.16 L831.02 1053.16 M831.02 1057.45 L831.02 1048.88 M812.65 1038.83 L808.98 1035.15 L808.98 1027.81 L812.65 1024.13 L817.55 1024.13 L831.02 1038.83 L831.02 1024.13" fill="none" stroke="#ffffff" stroke-width="3.5" stroke-linecap="round" stroke-linejoin="round"/>
<path d="M870.26 1057.45 L865.98 1053.16 L888.02 1053.16 M888.02 1057.45 L888.02 1048.88 M869.65 1038.83 L865.98 1035.15 L865.98 1027.81 L869.65 1024.13 L873.32 1024.13 L877 1027.81 L880.67 1024.13 L884.35 1024.13 L888.02 1027.81 L888.02 1035.15 L884.35 1038.83 M877 1032.71 L877 1027.81" fill="none" stroke="#ffffff" stroke-width="3.5" stroke-linecap="round" stroke-linejoin="round"/>
<path d="M919.26 1057.45 L914.98 1053.16 L937.02 1053.16 M937.02 1057.45 L937.02 1048.88 M937.02 1027.81 L914.98 1027.81 L926 1038.83 L926 1024.13" fill="none" stroke="#ffffff" stroke-width="3.5" stroke-linecap="round" stroke-linejoin="round"/>
<path d="M976.76 1057.45 L972.48 1053.16 L994.52 1053.16 M994.52 1057.45 L994.52 1048.88 M972.48 1024.13 L972.48 1038.83 L982.27 1038.83 L982.27 1027.81 L985.95 1024.13 L990.85 1024.13 L994.52 1027.81 L994.52 1035.15 L990.85 1038.83" fill="none" stroke="#ffffff" stroke-width="3.5" stroke-linecap="round" stroke-linejoin="round"/>
<path d="M1039.26 1057.45 L1034.98 1053.16 L1057.03 1053.16 M1057.03 1057.45 L1057.03 1048.88 M1034.98 1024.74 L1045.39 1035.15 L1049.06 1038.83 L1053.35 1038.83 L1057.03 1035.15 L1057.03 1027.81 L1053.35 1024.13 L1049.06 1024.13 L1045.39 1027.81 L1045.39 1035.15" fill="none" stroke="#ffffff" stroke-width="3.5" stroke-linecap="round" stroke-linejoin="round"/>
<path d="M1088.26 1057.45 L1083.98 1053.16 L1106.03 1053.16 M1106.03 1057.45 L1106.03 1048.88 M1083.98 1038.83 L1083.98 1024.13 L1086.43 1024.13 L1101.12 1037.61 L1106.03 1037.61" fill="none" stroke="#ffffff" stroke-width="3.5" stroke-linecap="round" stroke-linejoin="round"/>
<path d="M1145.96 1057.45 L1141.68 1053.16 L1163.73 1053.16 M1163.73 1057.45 L1163.73 1048.88 M1152.09 1035.15 L1149.64 1037.61 L1144.74 1037.61 L1141.68 1034.54 L1141.68 1028.42 L1144.74 1025.36 L1149.64 1025.36 L1152.09 1027.81 L1152.09 1035.15 L1155.76 1038.83 L1160.05 1038.83 L1163.73 1035.15 L1163.73 1027.81 L1160.05 1024.13 L1155.76 1024.13 L1152.09 1027.81" fill="none" stroke="#ffffff" stroke-width="3.5" stroke-linecap="round" stroke-linejoin="round"/>
<path d="M1200.26 1057.45 L1195.98 1053.16 L1218.03 1053.16 M1218.03 1057.45 L1218.03 1048.88 M1214.35 1038.83 L1218.03 1035.15 L1218.03 1027.81 L1214.35 1024.13 L1199.65 1024.13 L1195.98 1027.81 L1195.98 1035.15 L1199.65 1038.83 L1203.33 1038.83 L1207 1035.15 L1207 1024.13" fill="none" stroke="#ffffff" stroke-width="3.5" stroke-linecap="round" stroke-linejoin="round"/>
<path d="M1252.15 1048.75 L1248.48 1045.08 L1248.48 1037.73 L1252.15 1034.05 L1257.05 1034.05 L1270.53 1048.75 L1270.53 1034.05 M1270.53 1023.27 L1270.53 1015.92 L1266.85 1012.25 L1252.15 1012.25 L1248.48 1015.92 L1248.48 1023.27 L1252.15 1026.95 L1266.85 1026.95 L1270.53 1023.27" fill="none" stroke="#ffffff" stroke-width="3.5" stroke-linecap="round" stroke-linejoin="round"/>
<path d="M1443.17 134.65 L1465.22 134.65 L1465.22 144.45 L1460.33 149.34 L1448.08 149.34 L1443.17 144.45 Z" fill="#46704f"/>
<path d="M1453.59 156.45 L1457.88 156.45 L1465.22 163.8 L1457.88 171.15 L1453.59 171.15 Z" fill="#41735a"/>
<path d="M1454.81 181.93 L1454.81 189.28 L1451.14 192.96 L1446.85 192.96 L1443.17 189.28 L1443.17 181.93 L1446.85 178.26 L1451.14 178.26 Z" fill="#4b6c4e"/>
<path d="M1443.17 134.65 L1465.22 134.65 L1465.22 144.45 L1460.33 149.34 L1448.08 149.34 L1443.17 144.45 L1443.17 134.65 M1443.17 156.45 L1457.88 156.45 L1465.22 163.8 L1457.88 171.15 L1443.17 171.15 M1453.59 156.45 L1453.59 171.15 M1465.22 192.34 L1454.81 181.93 L1451.14 178.26 L1446.85 178.26 L1443.17 181.93 L1443.17 189.28 L1446.85 192.96 L1451.14 192.96 L1454.81 189.28 L1454.81 181.93" fill="none" stroke="#ffffff" stroke-width="3.5" stroke-linecap="round" stroke-linejoin="round"/>
<path d="M1498.17 134.65 L1520.22 134.65 L1520.22 144.45 L1515.33 149.34 L1503.08 149.34 L1498.17 144.45 Z" fill="#467055"/>
<path d="M1508.59 156.45 L1512.88 156.45 L1520.22 163.8 L1512.88 171.15 L1508.59 171.15 Z" fill="#41735a"/>
<path d="M1498.17 134.65 L1520.22 134.65 L1520.22 144.45 L1515.33 149.34 L1503.08 149.34 L1498.17 144.45 L1498.17 134.65 M1498.17 156.45 L1512.88 156.45 L1520.22 163.8 L1512.88 171.15 L1498.17 171.15 M1508.59 156.45 L1508.59 171.15 M1520.22 192.96 L1520.22 178.26 L1510.42 178.26 L1510.42 189.28 L1506.75 192.96 L1501.85 192.96 L1498.17 189.28 L1498.17 181.93 L1501.85 178.26" fill="none" stroke="#ffffff" stroke-width="3.5" stroke-linecap="round" stroke-linejoin="round"/>
<path d="M1554.97 131.34 L1577.02 131.34 L1577.02 141.15 L1572.12 146.04 L1559.88 146.04 L1554.97 141.15 Z" fill="#3c785f"/>
<path d="M1565.39 153.15 L1569.67 153.15 L1577.02 160.5 L1569.67 167.85 L1565.39 167.85 Z" fill="#3e765c"/>
<path d="M1554.97 131.34 L1577.02 131.34 L1577.02 141.15 L1572.12 146.04 L1559.88 146.04 L1554.97 141.15 L1554.97 131.34 M1554.97 153.15 L1569.67 153.15 L1577.02 160.5 L1569.67 167.85 L1554.97 167.85 M1565.39 153.15 L1565.39 167.85 M1554.97 185.98 L1577.02 185.98 L1566 174.96 L1566 189.66" fill="none" stroke="#ffffff" stroke-width="3.5" stroke-linecap="round" stroke-linejoin="round"/>
<path d="M1607.27 134.15 L1629.32 134.15 L1629.32 143.95 L1624.42 148.84 L1612.17 148.84 L1607.27 143.95 Z" fill="#4b6955"/>
<path d="M1617.69 155.95 L1621.97 155.95 L1629.32 163.3 L1621.97 170.65 L1617.69 170.65 Z" fill="#466e58"/>
<path d="M1607.27 134.15 L1629.32 134.15 L1629.32 143.95 L1624.42 148.84 L1612.17 148.84 L1607.27 143.95 L1607.27 134.15 M1607.27 155.95 L1621.97 155.95 L1629.32 163.3 L1621.97 170.65 L1607.27 170.65 M1617.69 155.95 L1617.69 170.65 M1625.65 177.76 L1629.32 181.43 L1629.32 188.78 L1625.65 192.46 L1621.97 192.46 L1618.3 188.78 L1614.62 192.46 L1610.95 192.46 L1607.27 188.78 L1607.27 181.43 L1610.95 177.76 M1618.3 183.88 L1618.3 188.78" fill="none" stroke="#ffffff" stroke-width="3.5" stroke-linecap="round" stroke-linejoin="round"/>
<path d="M1662.17 134.15 L1684.22 134.15 L1684.22 143.95 L1679.33 148.84 L1667.08 148.84 L1662.17 143.95 Z" fill="#506455"/>
<path d="M1672.59 155.95 L1676.88 155.95 L1684.22 163.3 L1676.88 170.65 L1672.59 170.65 Z" fill="#526458"/>
<path d="M1662.17 134.15 L1684.22 134.15 L1684.22 143.95 L1679.33 148.84 L1667.08 148.84 L1662.17 143.95 L1662.17 134.15 M1662.17 155.95 L1676.88 155.95 L1684.22 163.3 L1676.88 170.65 L1662.17 170.65 M1672.59 155.95 L1672.59 170.65 M1680.55 177.76 L1684.22 181.43 L1684.22 188.78 L1680.55 192.46 L1675.65 192.46 L1662.17 177.76 L1662.17 192.46" fill="none" stroke="#ffffff" stroke-width="3.5" stroke-linecap="round" stroke-linejoin="round"/>
<path d="M1716.77 136.11 L1738.82 136.11 L1738.82 145.91 L1733.92 150.81 L1721.67 150.81 L1716.77 145.91 Z" fill="#5a505a"/>
<path d="M1727.19 157.91 L1731.47 157.91 L1738.82 165.26 L1731.47 172.61 L1727.19 172.61 Z" fill="#58555a"/>
<path d="M1716.77 136.11 L1738.82 136.11 L1738.82 145.91 L1733.92 150.81 L1721.67 150.81 L1716.77 145.91 L1716.77 136.11 M1716.77 157.91 L1731.47 157.91 L1738.82 165.26 L1731.47 172.61 L1716.77 172.61 M1727.19 157.91 L1727.19 172.61 M1734.54 179.72 L1738.82 184 L1716.77 184 M1716.77 179.72 L1716.77 188.29" fill="none" stroke="#ffffff" stroke-width="3.5" stroke-linecap="round" stroke-linejoin="round"/>
<path d="M1768.47 139.34 L1790.52 139.34 L1790.52 149.15 L1785.62 154.04 L1773.38 154.04 L1768.47 149.15 Z" fill="#5f4b5f"/>
<path d="M1778.89 161.15 L1783.17 161.15 L1790.52 168.5 L1783.17 175.85 L1778.89 175.85 Z" fill="#5a505a"/>
<path d="M1768.47 186.63 L1768.47 193.98 L1772.15 197.66 L1786.85 197.66 L1790.52 193.98 L1790.52 186.63 L1786.85 182.96 L1772.15 182.96 Z" fill="#5f485f"/>
<path d="M1768.47 139.34 L1790.52 139.34 L1790.52 149.15 L1785.62 154.04 L1773.38 154.04 L1768.47 149.15 L1768.47 139.34 M1768.47 161.15 L1783.17 161.15 L1790.52 168.5 L1783.17 175.85 L1768.47 175.85 M1778.89 161.15 L1778.89 175.85 M1768.47 186.63 L1768.47 193.98 L1772.15 197.66 L1786.85 197.66 L1790.52 193.98 L1790.52 186.63 L1786.85 182.96 L1772.15 182.96 L1768.47 186.63" fill="none" stroke="#ffffff" stroke-width="3.5" stroke-linecap="round" stroke-linejoin="round"/>
<path d="M1462.42 278.45 L1462.42 293.15 M1462.42 285.8 L1440.38 285.8 M1440.38 300.25 L1462.42 314.95 M1462.42 300.25 L1440.38 314.95" fill="none" stroke="#ffffff" stroke-width="3.5" stroke-linecap="round" stroke-linejoin="round"/>
<path d="M1496.25 317.85 L1492.57 314.17 L1492.57 306.82 L1496.25 303.15 L1510.95 303.15 L1514.62 306.82 L1514.62 314.17 L1510.95 317.85 Z" fill="#5a525a"/>
<path d="M1510.95 296.04 L1514.62 292.37 L1514.62 285.02 L1510.95 281.34 L1507.27 281.34 L1503.6 285.02 L1503.6 292.37 L1499.92 296.04 L1496.25 296.04 L1492.57 292.37 L1492.57 285.02 L1496.25 281.34 M1496.25 317.85 L1492.57 314.17 L1492.57 306.82 L1496.25 303.15 L1510.95 303.15 L1514.62 306.82 L1514.62 314.17 L1510.95 317.85 M1514.62 324.95 L1492.57 324.95 L1492.57 339.65" fill="none" stroke="#ffffff" stroke-width="3.5" stroke-linecap="round" stroke-linejoin="round"/>
<path d="M1549.38 304.05 L1571.42 304.05 L1571.42 313.85 L1566.53 318.75 L1554.28 318.75 L1549.38 313.85 Z" fill="#5c505c"/>
<path d="M1559.79 325.85 L1564.08 325.85 L1571.42 333.2 L1564.08 340.55 L1559.79 340.55 Z" fill="#5a4f5a"/>
<path d="M1567.75 296.94 L1571.42 293.27 L1571.42 285.92 L1567.75 282.24 L1564.08 282.24 L1560.4 285.92 L1560.4 293.27 L1556.72 296.94 L1553.05 296.94 L1549.38 293.27 L1549.38 285.92 L1553.05 282.24 M1549.38 304.05 L1571.42 304.05 L1571.42 313.85 L1566.53 318.75 L1554.28 318.75 L1549.38 313.85 L1549.38 304.05 M1549.38 325.85 L1564.08 325.85 L1571.42 333.2 L1564.08 340.55 L1549.38 340.55 M1559.79 325.85 L1559.79 340.55" fill="none" stroke="#ffffff" stroke-width="3.5" stroke-linecap="round" stroke-linejoin="round"/>
<path d="M1767.38 298.14 L1789.42 298.14 L1789.42 307.94 L1784.53 312.84 L1772.28 312.84 L1767.38 307.94 Z" fill="#644862"/>
<path d="M1767.38 298.14 L1789.42 298.14 L1789.42 307.94 L1784.53 312.84 L1772.28 312.84 L1767.38 307.94 L1767.38 298.14 M1767.38 319.95 L1782.08 319.95 L1789.42 327.3 L1782.08 334.65 L1767.38 334.65 M1777.79 319.95 L1777.79 334.65 M1771.05 356.45 L1767.38 352.78 L1767.38 345.43 L1771.05 341.75 L1785.75 341.75 L1789.42 345.43 L1789.42 352.78 L1785.75 356.45" fill="none" stroke="#ffffff" stroke-width="3.5" stroke-linecap="round" stroke-linejoin="round"/>
<path d="M1443.97 500.25 L1466.02 500.25 L1466.02 511.27 L1462.35 514.95 L1458.67 514.95 L1455 511.27 L1455 500.25 M1455 506.37 L1443.97 514.95 M1443.97 522.05 L1466.02 536.75 M1466.02 522.05 L1443.97 536.75" fill="none" stroke="#ffffff" stroke-width="3.5" stroke-linecap="round" stroke-linejoin="round"/>
<path d="M1519.15 501.04 L1522.82 497.37 L1522.82 490.02 L1519.15 486.34 L1515.47 486.34 L1511.8 490.02 L1511.8 497.37 L1508.12 501.04 L1504.45 501.04 L1500.77 497.37 L1500.77 490.02 L1504.45 486.34 M1504.45 522.85 L1500.77 519.17 L1500.77 511.82 L1504.45 508.15 L1519.15 508.15 L1522.82 511.82 L1522.82 519.17 L1519.15 522.85 M1500.77 529.95 L1522.82 529.95 M1522.82 544.65 L1508.12 529.95 M1513.02 534.86 L1500.77 544.65" fill="none" stroke="#ffffff" stroke-width="3.5" stroke-linecap="round" stroke-linejoin="round"/>
<path d="M1548.27 467.94 L1570.32 467.94 L1558.07 475.29 L1570.32 482.64 L1548.27 482.64 M1548.27 493.42 L1548.27 500.77 M1548.27 497.1 L1570.32 497.1 M1570.32 493.42 L1570.32 500.77 M1566.65 526.25 L1570.32 522.58 L1570.32 515.23 L1566.65 511.55 L1562.97 511.55 L1559.3 515.23 L1559.3 522.58 L1555.62 526.25 L1551.95 526.25 L1548.27 522.58 L1548.27 515.23 L1551.95 511.55 M1548.27 537.03 L1548.27 544.38 L1551.95 548.06 L1566.65 548.06 L1570.32 544.38 L1570.32 537.03 L1566.65 533.36 L1551.95 533.36 L1548.27 537.03" fill="none" stroke="#ffffff" stroke-width="3.5" stroke-linecap="round" stroke-linejoin="round"/>
<path d="M1604.97 471.58 L1627.02 471.58 L1614.77 478.93 L1627.02 486.28 L1604.97 486.28 M1604.97 497.06 L1604.97 504.41 L1608.65 508.08 L1623.35 508.08 L1627.02 504.41 L1627.02 497.06 L1623.35 493.38 L1608.65 493.38 L1604.97 497.06 M1623.35 529.89 L1627.02 526.22 L1627.02 518.87 L1623.35 515.19 L1619.67 515.19 L1616 518.87 L1616 526.22 L1612.32 529.89 L1608.65 529.89 L1604.97 526.22 L1604.97 518.87 L1608.65 515.19 M1604.97 540.67 L1604.97 548.02 M1604.97 544.35 L1627.02 544.35 M1627.02 540.67 L1627.02 548.02" fill="none" stroke="#ffffff" stroke-width="3.5" stroke-linecap="round" stroke-linejoin="round"/>
<path d="M1850.27 362.54 L1872.32 377.24 M1872.32 362.54 L1850.27 377.24 M1850.27 384.35 L1864.97 384.35 L1872.32 391.7 L1864.97 399.05 L1850.27 399.05 M1860.69 384.35 L1860.69 399.05 M1850.27 409.83 L1850.27 417.18 M1850.27 413.5 L1872.32 413.5 M1872.32 409.83 L1872.32 417.18 M1850.27 431.63 L1850.27 438.98 L1853.95 442.66 L1868.65 442.66 L1872.32 438.98 L1872.32 431.63 L1868.65 427.96 L1853.95 427.96 L1850.27 431.63" fill="none" stroke="#ffffff" stroke-width="3.5" stroke-linecap="round" stroke-linejoin="round"/>
<path d="M1440.47 633.25 L1462.52 633.25 L1462.52 643.04 L1457.62 647.95 L1445.38 647.95 L1440.47 643.04 L1440.47 633.25 M1440.47 655.05 L1455.17 655.05 L1462.52 662.4 L1455.17 669.75 L1440.47 669.75 M1450.89 655.05 L1450.89 669.75 M1462.52 676.86 L1462.52 691.56 L1460.07 691.56 L1445.38 678.08 L1440.47 678.08" fill="none" stroke="#ffffff" stroke-width="3.5" stroke-linecap="round" stroke-linejoin="round"/>
<path d="M1496.97 632.85 L1519.02 632.85 L1519.02 642.64 L1514.12 647.55 L1501.88 647.55 L1496.97 642.64 L1496.97 632.85 M1496.97 654.65 L1511.67 654.65 L1519.02 662 L1511.67 669.35 L1496.97 669.35 M1507.39 654.65 L1507.39 669.35 M1508.61 680.13 L1511.06 677.68 L1515.96 677.68 L1519.02 680.74 L1519.02 686.87 L1515.96 689.93 L1511.06 689.93 L1508.61 687.48 L1508.61 680.13 L1504.94 676.46 L1500.65 676.46 L1496.97 680.13 L1496.97 687.48 L1500.65 691.16 L1504.94 691.16 L1508.61 687.48" fill="none" stroke="#ffffff" stroke-width="3.5" stroke-linecap="round" stroke-linejoin="round"/>
<path d="M1549.97 632.85 L1572.02 632.85 L1572.02 642.64 L1567.12 647.55 L1554.88 647.55 L1549.97 642.64 L1549.97 632.85 M1549.97 654.65 L1564.67 654.65 L1572.02 662 L1564.67 669.35 L1549.97 669.35 M1560.39 654.65 L1560.39 669.35 M1553.65 676.46 L1549.97 680.13 L1549.97 687.48 L1553.65 691.16 L1568.35 691.16 L1572.02 687.48 L1572.02 680.13 L1568.35 676.46 L1564.67 676.46 L1561 680.13 L1561 691.16" fill="none" stroke="#ffffff" stroke-width="3.5" stroke-linecap="round" stroke-linejoin="round"/>
<path d="M1600.97 630.43 L1623.02 630.43 L1623.02 640.23 L1618.12 645.13 L1605.88 645.13 L1600.97 640.23 L1600.97 630.43 M1600.97 652.24 L1615.67 652.24 L1623.02 659.59 L1615.67 666.94 L1600.97 666.94 M1611.39 652.24 L1611.39 666.94 M1618.74 674.04 L1623.02 678.33 L1600.97 678.33 M1600.97 674.04 L1600.97 682.62 M1600.97 696.34 L1600.97 703.69 L1604.65 707.37 L1619.35 707.37 L1623.02 703.69 L1623.02 696.34 L1619.35 692.66 L1604.65 692.66 L1600.97 696.34" fill="none" stroke="#ffffff" stroke-width="3.5" stroke-linecap="round" stroke-linejoin="round"/>
<path d="M1676.35 627.85 L1680.02 631.52 L1680.02 638.87 L1676.35 642.55 L1672.67 642.55 L1669 638.87 L1665.32 642.55 L1661.65 642.55 L1657.97 638.87 L1657.97 631.52 L1661.65 627.85 M1669 633.97 L1669 638.87 M1680.02 649.65 L1665.32 649.65 L1657.97 657 L1665.32 664.35 L1680.02 664.35 M1676.35 671.46 L1680.02 675.13 L1680.02 682.48 L1676.35 686.16 L1672.67 686.16 L1669 682.48 L1665.32 686.16 L1661.65 686.16 L1657.97 682.48 L1657.97 675.13 L1661.65 671.46 M1669 677.58 L1669 682.48" fill="none" stroke="#ffffff" stroke-width="3.5" stroke-linecap="round" stroke-linejoin="round"/>
<path d="M1731.05 640.55 L1734.72 636.87 L1734.72 629.52 L1731.05 625.85 L1716.35 625.85 L1712.67 629.52 L1712.67 636.87 L1716.35 640.55 L1722.47 640.55 L1722.47 633.2 M1712.67 647.65 L1734.72 647.65 L1712.67 662.35 L1734.72 662.35 M1712.67 669.46 L1734.72 669.46 L1734.72 679.25 L1729.83 684.16 L1717.58 684.16 L1712.67 679.25 L1712.67 669.46" fill="none" stroke="#ffffff" stroke-width="3.5" stroke-linecap="round" stroke-linejoin="round"/>
<path d="M1789.52 628.85 L1774.82 628.85 L1767.47 636.2 L1774.82 643.55 L1789.52 643.55 M1771.15 665.35 L1767.47 661.68 L1767.47 654.33 L1771.15 650.65 L1785.85 650.65 L1789.52 654.33 L1789.52 661.68 L1785.85 665.35 M1771.15 687.16 L1767.47 683.48 L1767.47 676.13 L1771.15 672.46 L1785.85 672.46 L1789.52 676.13 L1789.52 683.48 L1785.85 687.16" fill="none" stroke="#ffffff" stroke-width="3.5" stroke-linecap="round" stroke-linejoin="round"/>
<line x1="85.2" y1="1283.8" x2="85.2" y2="1246" stroke="#22dd22" stroke-width="3"/>
<path d="M80 1248 L85.2 1237 L90.4 1248 Z" fill="#22dd22"/>
<line x1="85.2" y1="1283.8" x2="122" y2="1283.8" stroke="#ee1111" stroke-width="3"/>
<path d="M120 1278.5 L131 1283.8 L120 1289 Z" fill="#ee1111"/>
<line x1="85.2" y1="1283.8" x2="65" y2="1296.5" stroke="#111111" stroke-width="3"/>
<circle cx="64.6" cy="1296.8" r="4.5" fill="#1111dd"/>
<path d="M81 1215 L84.5 1221 L88 1215 M84.5 1221 L84.5 1227" fill="none" stroke="#22dd22" stroke-width="1.5"/>
<path d="M137 1279 L146 1290 M146 1279 L137 1290" fill="none" stroke="#ee1111" stroke-width="1.5"/>
<path d="M41 1307 H50 L41 1318 H50" fill="none" stroke="#1111dd" stroke-width="1.5"/></svg>
</body></html>
